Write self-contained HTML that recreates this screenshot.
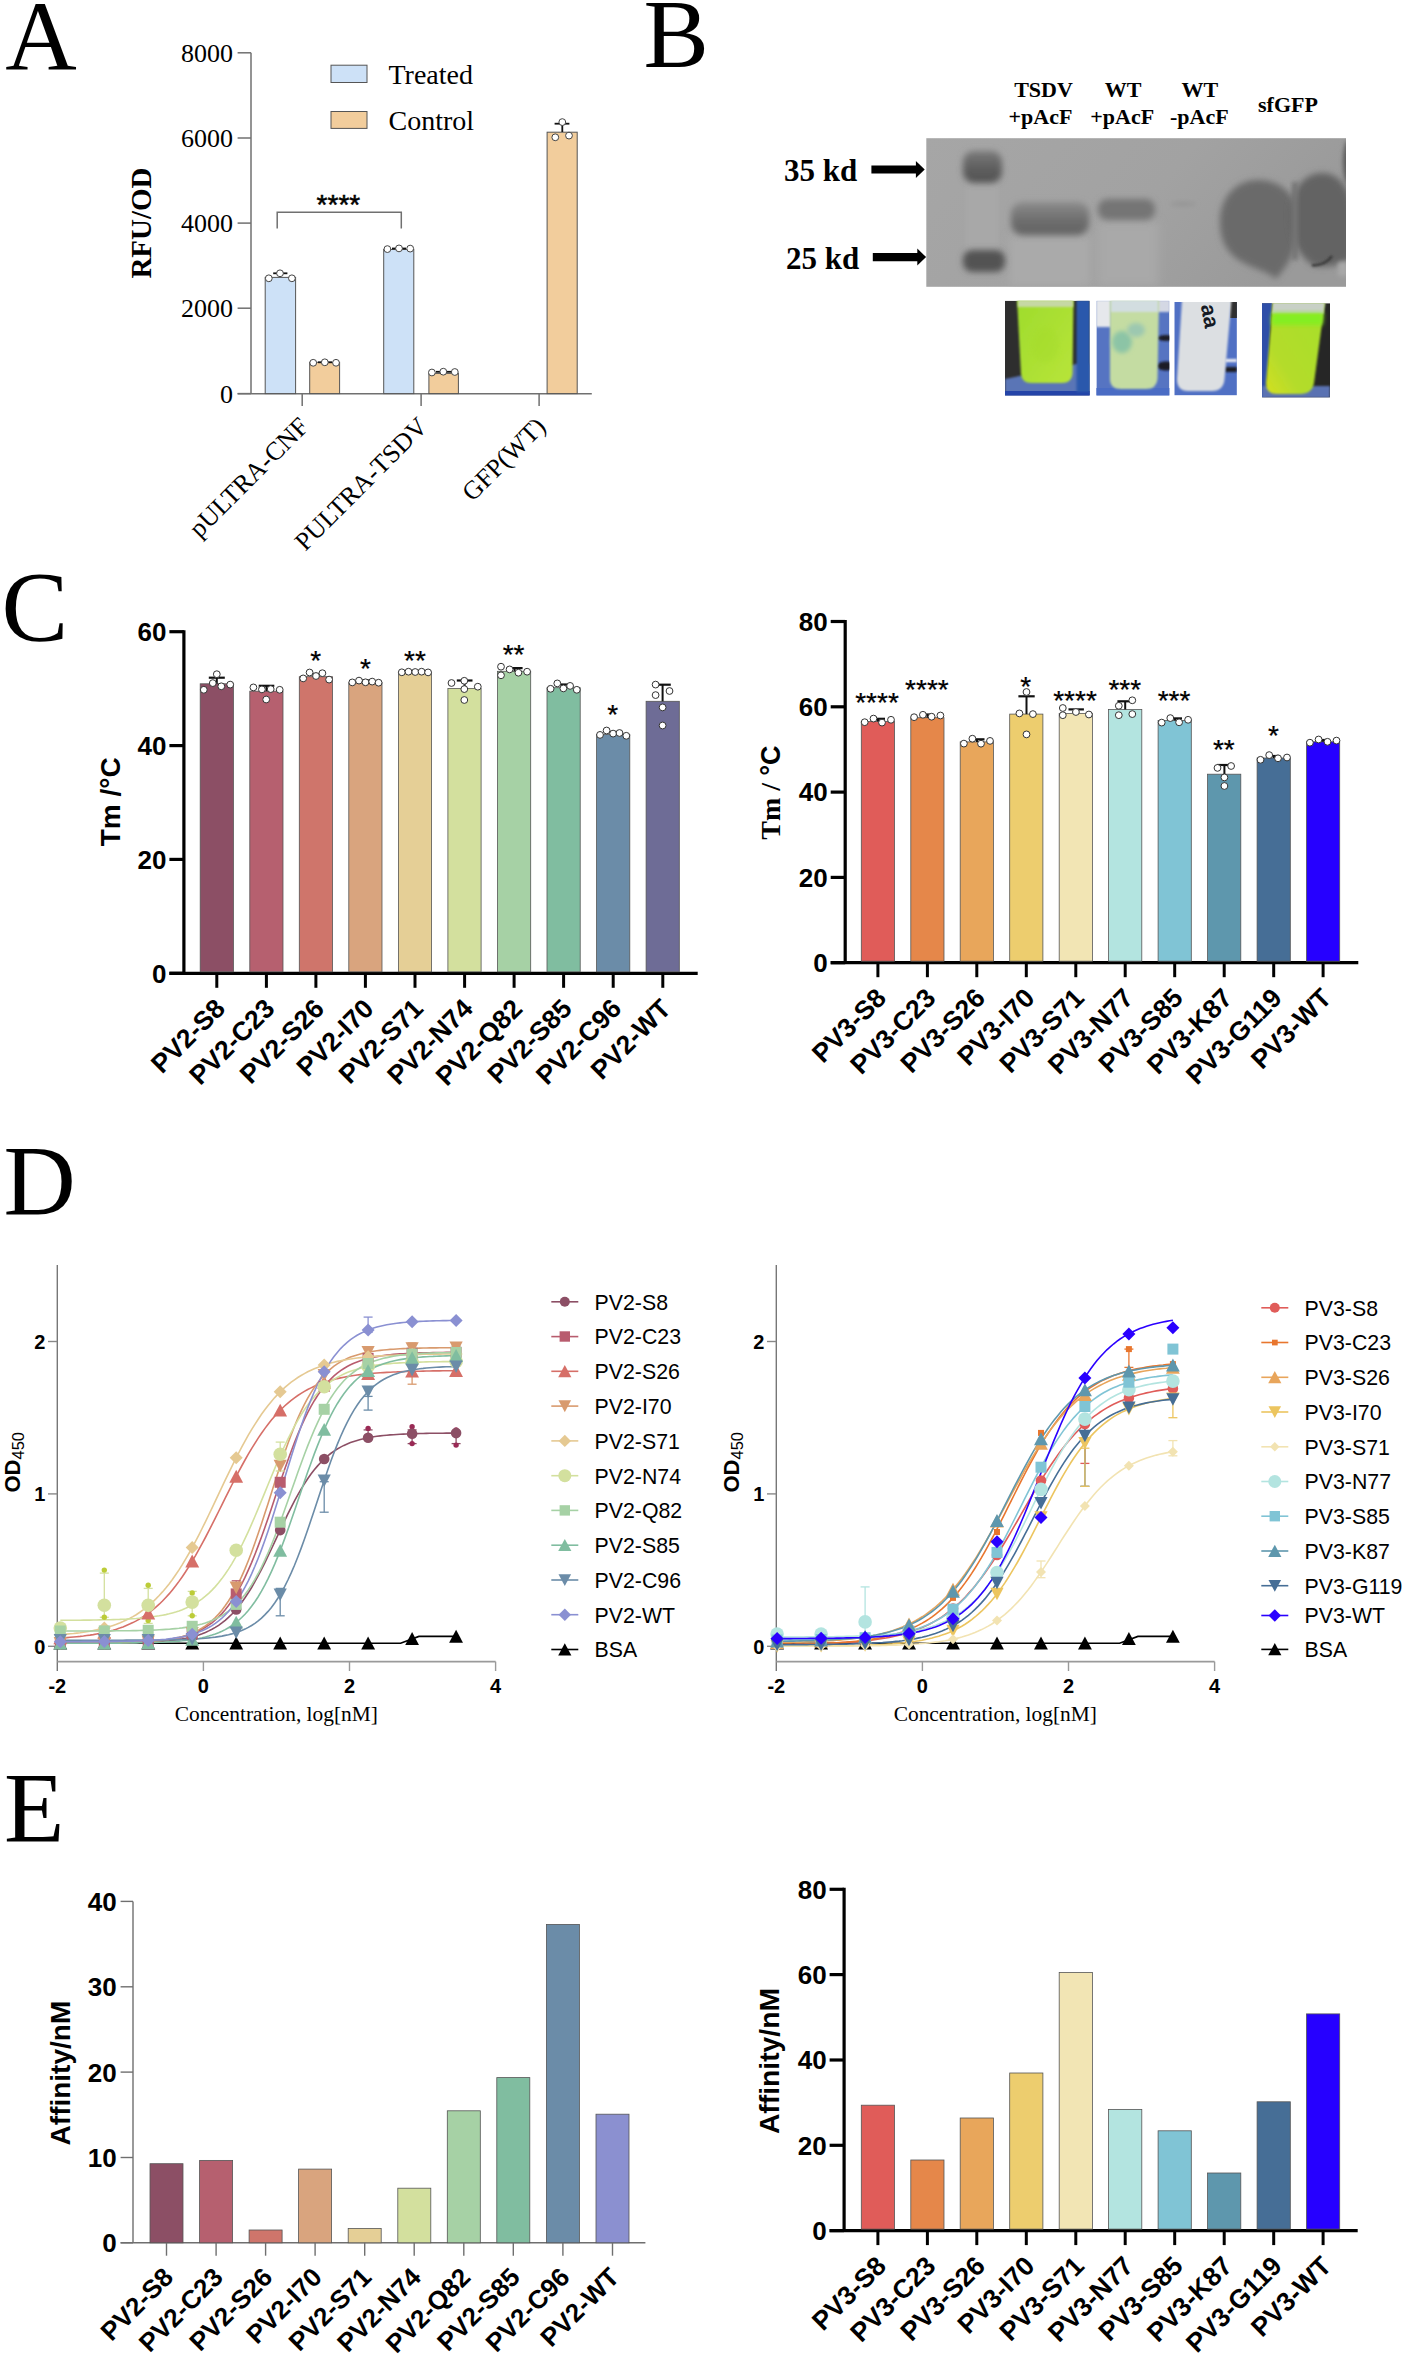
<!DOCTYPE html>
<html><head><meta charset="utf-8"><style>html,body{margin:0;padding:0;background:#fff;}svg{display:block;}</style></head>
<body><svg width="1405" height="2357" viewBox="0 0 1405 2357">
<rect width="1405" height="2357" fill="#fff"/>
<text x="5.2" y="69.6" font-family='"Liberation Serif", serif' font-size="99" font-weight="normal" text-anchor="start" fill="#000">A</text>
<line x1="251.0" y1="52.8" x2="251.0" y2="393.6" stroke="#707070" stroke-width="1.5"/>
<line x1="237.6" y1="52.8" x2="251.0" y2="52.8" stroke="#707070" stroke-width="1.5"/>
<text x="233.0" y="61.8" font-family='"Liberation Serif", serif' font-size="26" font-weight="normal" text-anchor="end" fill="#000">8000</text>
<line x1="237.6" y1="138.0" x2="251.0" y2="138.0" stroke="#707070" stroke-width="1.5"/>
<text x="233.0" y="147.0" font-family='"Liberation Serif", serif' font-size="26" font-weight="normal" text-anchor="end" fill="#000">6000</text>
<line x1="237.6" y1="223.1" x2="251.0" y2="223.1" stroke="#707070" stroke-width="1.5"/>
<text x="233.0" y="232.1" font-family='"Liberation Serif", serif' font-size="26" font-weight="normal" text-anchor="end" fill="#000">4000</text>
<line x1="237.6" y1="308.2" x2="251.0" y2="308.2" stroke="#707070" stroke-width="1.5"/>
<text x="233.0" y="317.2" font-family='"Liberation Serif", serif' font-size="26" font-weight="normal" text-anchor="end" fill="#000">2000</text>
<line x1="237.6" y1="393.6" x2="251.0" y2="393.6" stroke="#707070" stroke-width="1.5"/>
<text x="233.0" y="402.6" font-family='"Liberation Serif", serif' font-size="26" font-weight="normal" text-anchor="end" fill="#000">0</text>
<line x1="237.6" y1="393.7" x2="591.8" y2="393.7" stroke="#707070" stroke-width="1.5"/>
<line x1="302.2" y1="393.7" x2="302.2" y2="406.0" stroke="#707070" stroke-width="1.5"/>
<line x1="421.1" y1="393.7" x2="421.1" y2="406.0" stroke="#707070" stroke-width="1.5"/>
<line x1="539.1" y1="393.7" x2="539.1" y2="406.0" stroke="#707070" stroke-width="1.5"/>
<rect x="265.2" y="277.4" width="30.4" height="116.2" fill="#cde1f7" stroke="#555" stroke-width="1"/>
<rect x="309.7" y="362.3" width="29.9" height="31.3" fill="#f2cd9c" stroke="#555" stroke-width="1"/>
<rect x="383.7" y="249.5" width="30.1" height="144.1" fill="#cde1f7" stroke="#555" stroke-width="1"/>
<rect x="428.9" y="373.4" width="29.5" height="20.2" fill="#f2cd9c" stroke="#555" stroke-width="1"/>
<rect x="547.1" y="132.2" width="30.1" height="261.4" fill="#f2cd9c" stroke="#555" stroke-width="1"/>
<line x1="273.2" y1="273.3" x2="287.4" y2="273.3" stroke="#111" stroke-width="1.8"/>
<line x1="318.0" y1="362.3" x2="332.0" y2="362.3" stroke="#111" stroke-width="1.8"/>
<line x1="392.0" y1="248.5" x2="406.0" y2="248.5" stroke="#111" stroke-width="1.8"/>
<line x1="436.0" y1="371.8" x2="451.0" y2="371.8" stroke="#111" stroke-width="1.8"/>
<line x1="562.3" y1="132.0" x2="562.3" y2="123.7" stroke="#111" stroke-width="1.8"/>
<line x1="554.6" y1="123.7" x2="569.4" y2="123.7" stroke="#111" stroke-width="1.8"/>
<circle cx="268.8" cy="278.3" r="3.4" fill="#fff" stroke="#444" stroke-width="1"/>
<circle cx="280.0" cy="273.3" r="3.4" fill="#fff" stroke="#444" stroke-width="1"/>
<circle cx="291.9" cy="278.3" r="3.4" fill="#fff" stroke="#444" stroke-width="1"/>
<circle cx="313.2" cy="362.8" r="3.4" fill="#fff" stroke="#444" stroke-width="1"/>
<circle cx="324.8" cy="362.3" r="3.4" fill="#fff" stroke="#444" stroke-width="1"/>
<circle cx="336.0" cy="362.8" r="3.4" fill="#fff" stroke="#444" stroke-width="1"/>
<circle cx="387.4" cy="249.1" r="3.4" fill="#fff" stroke="#444" stroke-width="1"/>
<circle cx="399.0" cy="248.4" r="3.4" fill="#fff" stroke="#444" stroke-width="1"/>
<circle cx="410.2" cy="248.6" r="3.4" fill="#fff" stroke="#444" stroke-width="1"/>
<circle cx="431.9" cy="372.5" r="3.4" fill="#fff" stroke="#444" stroke-width="1"/>
<circle cx="443.3" cy="371.7" r="3.4" fill="#fff" stroke="#444" stroke-width="1"/>
<circle cx="454.8" cy="372.0" r="3.4" fill="#fff" stroke="#444" stroke-width="1"/>
<circle cx="555.3" cy="137.3" r="3.4" fill="#fff" stroke="#444" stroke-width="1"/>
<circle cx="562.3" cy="122.1" r="3.4" fill="#fff" stroke="#444" stroke-width="1"/>
<circle cx="569.0" cy="135.6" r="3.4" fill="#fff" stroke="#444" stroke-width="1"/>
<polyline points="277.2,228.5 277.2,212.3 401.3,212.3 401.3,228.5" fill="none" stroke="#707070" stroke-width="1.5"/>
<text x="338.4" y="213.5" font-family='"Liberation Sans", sans-serif' font-size="28" font-weight="normal" text-anchor="middle" fill="#000" stroke="#000" stroke-width="0.5">****</text>
<rect x="331.0" y="65.2" width="36.0" height="17.3" fill="#cde1f7" stroke="#555" stroke-width="1"/>
<rect x="331.0" y="111.5" width="36.0" height="16.9" fill="#f2cd9c" stroke="#555" stroke-width="1"/>
<text x="388.5" y="83.5" font-family='"Liberation Serif", serif' font-size="28" font-weight="normal" text-anchor="start" fill="#000">Treated</text>
<text x="388.5" y="129.5" font-family='"Liberation Serif", serif' font-size="28" font-weight="normal" text-anchor="start" fill="#000">Control</text>
<text x="150.5" y="223.0" font-family='"Liberation Serif", serif' font-size="29" font-weight="bold" text-anchor="middle" fill="#000" transform="rotate(-90 150.5 223.0)">RFU/OD</text>
<text x="310.2" y="428.0" font-family='"Liberation Serif", serif' font-size="26" font-weight="normal" text-anchor="end" fill="#000" transform="rotate(-45 310.2 428.0)">pULTRA-CNF</text>
<text x="429.1" y="428.0" font-family='"Liberation Serif", serif' font-size="26" font-weight="normal" text-anchor="end" fill="#000" transform="rotate(-45 429.1 428.0)">PULTRA-TSDV</text>
<text x="547.1" y="428.0" font-family='"Liberation Serif", serif' font-size="26" font-weight="normal" text-anchor="end" fill="#000" transform="rotate(-45 547.1 428.0)">GFP(WT)</text>
<text x="643.4" y="66.5" font-family='"Liberation Serif", serif' font-size="98" font-weight="normal" text-anchor="start" fill="#000">B</text>
<text x="1043.5" y="96.9" font-family='"Liberation Serif", serif' font-size="22" font-weight="bold" text-anchor="middle" fill="#000">TSDV</text>
<text x="1040.5" y="123.6" font-family='"Liberation Serif", serif' font-size="22" font-weight="bold" text-anchor="middle" fill="#000">+pAcF</text>
<text x="1123.0" y="96.9" font-family='"Liberation Serif", serif' font-size="22" font-weight="bold" text-anchor="middle" fill="#000">WT</text>
<text x="1122.2" y="123.6" font-family='"Liberation Serif", serif' font-size="22" font-weight="bold" text-anchor="middle" fill="#000">+pAcF</text>
<text x="1199.8" y="96.9" font-family='"Liberation Serif", serif' font-size="22" font-weight="bold" text-anchor="middle" fill="#000">WT</text>
<text x="1199.3" y="123.6" font-family='"Liberation Serif", serif' font-size="22" font-weight="bold" text-anchor="middle" fill="#000">-pAcF</text>
<text x="1288.0" y="112.4" font-family='"Liberation Serif", serif' font-size="22" font-weight="bold" text-anchor="middle" fill="#000">sfGFP</text>
<text x="784.0" y="181.1" font-family='"Liberation Serif", serif' font-size="31" font-weight="bold" text-anchor="start" fill="#000">35 kd</text>
<text x="786.0" y="268.9" font-family='"Liberation Serif", serif' font-size="31" font-weight="bold" text-anchor="start" fill="#000">25 kd</text>
<polygon points="871.4,165.4 915.9,165.4 915.9,161.0 924.6999999999999,169.5 915.9,178.0 915.9,173.6 871.4,173.6" fill="#000"/>
<polygon points="872.8,253.00000000000003 917.3,253.00000000000003 917.3,248.60000000000002 926.0999999999999,257.1 917.3,265.6 917.3,261.20000000000005 872.8,261.20000000000005" fill="#000"/>
<defs><filter id="bl4" x="-50%" y="-50%" width="200%" height="200%"><feGaussianBlur stdDeviation="4"/></filter><filter id="bl2" x="-50%" y="-50%" width="200%" height="200%"><feGaussianBlur stdDeviation="2.2"/></filter><filter id="bl1" x="-50%" y="-50%" width="200%" height="200%"><feGaussianBlur stdDeviation="1.2"/></filter><filter id="bl3" x="-50%" y="-50%" width="200%" height="200%"><feGaussianBlur stdDeviation="3.2"/></filter><clipPath id="gelclip"><rect x="926.3" y="138.2" width="419.7" height="148.6"/></clipPath></defs>
<defs><linearGradient id="gelbg" x1="0" y1="0" x2="1" y2="0.3"><stop offset="0" stop-color="#a6a6a6"/><stop offset="0.6" stop-color="#a2a2a2"/><stop offset="1" stop-color="#9a9a9a"/></linearGradient><linearGradient id="band" x1="0" y1="0" x2="0" y2="1"><stop offset="0" stop-color="#8c8c8c"/><stop offset="0.55" stop-color="#6e6e6e"/><stop offset="1" stop-color="#626262"/></linearGradient><linearGradient id="mk" x1="0" y1="0" x2="0" y2="1"><stop offset="0" stop-color="#7a7a7a"/><stop offset="0.6" stop-color="#5c5c5c"/><stop offset="1" stop-color="#545454"/></linearGradient></defs>
<rect x="926.3" y="138.2" width="419.7" height="148.6" fill="url(#gelbg)"/>
<g clip-path="url(#gelclip)">
<rect x="1010" y="236" width="80" height="50" fill="#aaaaaa" filter="url(#bl4)"/>
<rect x="1098" y="222" width="60" height="64" fill="#a9a9a9" filter="url(#bl4)"/>
<rect x="966" y="180" width="32" height="72" fill="#a8a8a8" filter="url(#bl2)"/>
<rect x="963" y="151" width="39" height="32" rx="11" fill="url(#mk)" filter="url(#bl3)"/>
<rect x="963" y="250" width="42" height="22" rx="9" fill="#525252" filter="url(#bl3)"/>
<rect x="1011" y="202" width="78" height="33" rx="12" fill="url(#band)" filter="url(#bl3)"/>
<rect x="1098" y="199" width="57" height="21" rx="9" fill="#747474" filter="url(#bl3)"/>
<ellipse cx="1183" cy="204" rx="13" ry="3" fill="#989898" filter="url(#bl2)"/>
<path d="M1220,222 C1220,197 1236,180 1258,180 C1282,180 1299,197 1299,222 C1299,250 1287,266 1276,279 C1268,271 1250,268 1237,259 C1225,250 1220,238 1220,222 Z" fill="#6a6a6a" filter="url(#bl3)"/>
<path d="M1290,215 C1290,190 1304,173 1322,173 C1340,173 1352,190 1352,215 L1352,258 C1340,266 1326,268 1314,266 C1298,256 1290,238 1290,215 Z" fill="#646464" filter="url(#bl3)"/>
<path d="M1312,265 C1320,266 1328,262 1332,256" stroke="#3a3a3a" stroke-width="2.5" fill="none" filter="url(#bl1)"/>
<rect x="1292" y="182" width="6" height="78" fill="#747474" filter="url(#bl2)"/>
<ellipse cx="1349" cy="162" rx="6" ry="22" fill="#5a5a5a" filter="url(#bl2)"/>
<rect x="1338" y="262" width="10" height="14" fill="#a8a8a8" filter="url(#bl2)"/>
</g>
<defs><clipPath id="t1"><rect x="1005" y="300.7" width="84.7" height="94.7"/></clipPath><clipPath id="t2"><rect x="1096.4" y="300.7" width="73" height="94.7"/></clipPath><clipPath id="t3"><rect x="1174.3" y="302" width="62.6" height="93.4"/></clipPath><clipPath id="t4"><rect x="1262" y="303.2" width="68" height="94.4"/></clipPath><linearGradient id="g1" x1="0" y1="0" x2="1" y2="1"><stop offset="0" stop-color="#9edc2c"/><stop offset="1" stop-color="#b8e43a"/></linearGradient><linearGradient id="g4" x1="1" y1="0" x2="0" y2="1"><stop offset="0" stop-color="#a6e02a"/><stop offset="0.7" stop-color="#b4dc2c"/><stop offset="1" stop-color="#d4e020"/></linearGradient></defs>
<g clip-path="url(#t1)">
<rect x="1005.0" y="300.7" width="84.7" height="94.7" fill="#2e2e2e"/>
<polygon points="1005,379 1076,364 1090,364 1090,396 1005,396" fill="#5a74b6" filter="url(#bl1)"/>
<rect x="1005" y="391" width="85" height="5" fill="#2444a8"/>
<rect x="1076.5" y="300" width="13.5" height="92" fill="#2a58ac" filter="url(#bl1)"/>
<path d="M1017,299 L1073.5,299 L1072.5,374 Q1071.5,383 1062,383 L1031,383 Q1022,383 1021,374 Z" fill="url(#g1)" filter="url(#bl1)"/>
<rect x="1018" y="300" width="55" height="7" fill="#c6d8a4" filter="url(#bl1)"/>
<ellipse cx="1045" cy="345" rx="14" ry="18" fill="#a4dc2c" opacity="0.4" filter="url(#bl2)"/>
</g>
<g clip-path="url(#t2)">
<rect x="1096.4" y="300.7" width="73.0" height="94.7" fill="#5674c2"/>
<rect x="1096" y="300" width="15" height="27" fill="#e6e8ec" filter="url(#bl1)"/>
<rect x="1157" y="300" width="13" height="12" fill="#d4d8e4" filter="url(#bl1)"/>
<ellipse cx="1166" cy="338" rx="9" ry="3" fill="#1c1c28" filter="url(#bl1)"/>
<ellipse cx="1166" cy="366" rx="9" ry="4.5" fill="#1c1c28" filter="url(#bl1)"/>
<rect x="1096" y="388" width="74" height="8" fill="#4a6cc4"/>
<path d="M1110,299 L1159,299 L1157.5,379 Q1156.5,389 1146,389 L1121,389 Q1110,389 1110,379 Z" fill="#c4dca2" filter="url(#bl1)"/>
<rect x="1111" y="300" width="47" height="12" fill="#d2dde0" filter="url(#bl1)"/>
<ellipse cx="1122" cy="342" rx="10" ry="11" fill="#8cc4a6" filter="url(#bl2)"/>
<ellipse cx="1136" cy="330" rx="9" ry="7" fill="#9cc8b0" filter="url(#bl2)"/>
</g>
<g clip-path="url(#t3)">
<rect x="1174.3" y="302.0" width="62.6" height="93.4" fill="#5070c4"/>
<rect x="1230" y="302" width="7" height="16" fill="#303030"/>
<rect x="1225" y="359" width="12" height="3" fill="#f0f0f4" filter="url(#bl1)"/>
<rect x="1225" y="367" width="12" height="5" fill="#1c1c24" filter="url(#bl1)"/>
<path d="M1182,300 L1231.5,300 L1224.5,379 Q1223.5,391 1212,391 L1188,391 Q1177,391 1177,379 Z" fill="#dcdfe2" filter="url(#bl1)"/>
<text x="1197" y="324" font-family='"Liberation Sans", sans-serif' font-size="21.5" font-weight="bold" fill="#151a24" transform="rotate(80 1210 317)">aa</text>
</g>
<g clip-path="url(#t4)">
<rect x="1262.0" y="303.2" width="68.0" height="94.4" fill="#262626"/>
<polygon points="1262,303 1272,303 1266,397 1262,397" fill="#2e4ea8"/>
<rect x="1262" y="386" width="68" height="12" fill="#5a72b2" filter="url(#bl1)"/>
<path d="M1273,301 L1325,301 L1314,383 Q1312,394 1300,394 L1277,394 Q1265,394 1266,382 Z" fill="url(#g4)" filter="url(#bl1)"/>
<path d="M1273,301 L1325,301 L1323.5,314 L1272,314 Z" fill="#c8d0c6" filter="url(#bl1)"/>
<path d="M1272,313 L1323.5,313 L1322.5,325 L1271.5,325 Z" fill="#84ee22" filter="url(#bl2)"/>
</g>
<text x="1.6" y="639.5" font-family='"Liberation Serif", serif' font-size="100" font-weight="normal" text-anchor="start" fill="#000">C</text>
<line x1="183.9" y1="630.2" x2="183.9" y2="973.3" stroke="#000" stroke-width="3.2"/>
<line x1="169.4" y1="631.7" x2="183.9" y2="631.7" stroke="#000" stroke-width="3.2"/>
<text x="166.4" y="641.0" font-family='"Liberation Sans", sans-serif' font-size="26" font-weight="bold" text-anchor="end" fill="#000">60</text>
<line x1="169.4" y1="745.6" x2="183.9" y2="745.6" stroke="#000" stroke-width="3.2"/>
<text x="166.4" y="754.9" font-family='"Liberation Sans", sans-serif' font-size="26" font-weight="bold" text-anchor="end" fill="#000">40</text>
<line x1="169.4" y1="859.4" x2="183.9" y2="859.4" stroke="#000" stroke-width="3.2"/>
<text x="166.4" y="868.7" font-family='"Liberation Sans", sans-serif' font-size="26" font-weight="bold" text-anchor="end" fill="#000">20</text>
<line x1="169.4" y1="973.3" x2="183.9" y2="973.3" stroke="#000" stroke-width="3.2"/>
<text x="166.4" y="982.6" font-family='"Liberation Sans", sans-serif' font-size="26" font-weight="bold" text-anchor="end" fill="#000">0</text>
<line x1="169.4" y1="973.3" x2="697.7" y2="973.3" stroke="#000" stroke-width="3.2"/>
<rect x="200.2" y="683.8" width="33.2" height="288.0" fill="#8c4f65" stroke="#555" stroke-width="0.8"/>
<line x1="216.8" y1="973.3" x2="216.8" y2="987.8" stroke="#000" stroke-width="3"/>
<text x="226.6" y="1010.2" font-family='"Liberation Sans", sans-serif' font-size="26.5" font-weight="bold" text-anchor="end" fill="#000" transform="rotate(-45 226.6 1010.2)">PV2-S8</text>
<rect x="249.8" y="691.2" width="33.2" height="280.6" fill="#b6606f" stroke="#555" stroke-width="0.8"/>
<line x1="266.4" y1="973.3" x2="266.4" y2="987.8" stroke="#000" stroke-width="3"/>
<text x="276.2" y="1010.2" font-family='"Liberation Sans", sans-serif' font-size="26.5" font-weight="bold" text-anchor="end" fill="#000" transform="rotate(-45 276.2 1010.2)">PV2-C23</text>
<rect x="299.3" y="676.7" width="33.2" height="295.1" fill="#cf756b" stroke="#555" stroke-width="0.8"/>
<line x1="315.9" y1="973.3" x2="315.9" y2="987.8" stroke="#000" stroke-width="3"/>
<text x="325.7" y="1010.2" font-family='"Liberation Sans", sans-serif' font-size="26.5" font-weight="bold" text-anchor="end" fill="#000" transform="rotate(-45 325.7 1010.2)">PV2-S26</text>
<rect x="348.8" y="682.7" width="33.2" height="289.1" fill="#d9a47e" stroke="#555" stroke-width="0.8"/>
<line x1="365.4" y1="973.3" x2="365.4" y2="987.8" stroke="#000" stroke-width="3"/>
<text x="375.2" y="1010.2" font-family='"Liberation Sans", sans-serif' font-size="26.5" font-weight="bold" text-anchor="end" fill="#000" transform="rotate(-45 375.2 1010.2)">PV2-I70</text>
<rect x="398.4" y="672.4" width="33.2" height="299.4" fill="#e5cf96" stroke="#555" stroke-width="0.8"/>
<line x1="415.0" y1="973.3" x2="415.0" y2="987.8" stroke="#000" stroke-width="3"/>
<text x="424.8" y="1010.2" font-family='"Liberation Sans", sans-serif' font-size="26.5" font-weight="bold" text-anchor="end" fill="#000" transform="rotate(-45 424.8 1010.2)">PV2-S71</text>
<rect x="447.9" y="688.4" width="33.2" height="283.4" fill="#d3e09e" stroke="#555" stroke-width="0.8"/>
<line x1="464.6" y1="973.3" x2="464.6" y2="987.8" stroke="#000" stroke-width="3"/>
<text x="474.4" y="1010.2" font-family='"Liberation Sans", sans-serif' font-size="26.5" font-weight="bold" text-anchor="end" fill="#000" transform="rotate(-45 474.4 1010.2)">PV2-N74</text>
<rect x="497.5" y="671.3" width="33.2" height="300.5" fill="#a6d1a5" stroke="#555" stroke-width="0.8"/>
<line x1="514.1" y1="973.3" x2="514.1" y2="987.8" stroke="#000" stroke-width="3"/>
<text x="523.9" y="1010.2" font-family='"Liberation Sans", sans-serif' font-size="26.5" font-weight="bold" text-anchor="end" fill="#000" transform="rotate(-45 523.9 1010.2)">PV2-Q82</text>
<rect x="547.0" y="687.7" width="33.2" height="284.1" fill="#80bda0" stroke="#555" stroke-width="0.8"/>
<line x1="563.6" y1="973.3" x2="563.6" y2="987.8" stroke="#000" stroke-width="3"/>
<text x="573.4" y="1010.2" font-family='"Liberation Sans", sans-serif' font-size="26.5" font-weight="bold" text-anchor="end" fill="#000" transform="rotate(-45 573.4 1010.2)">PV2-S85</text>
<rect x="596.6" y="734.6" width="33.2" height="237.2" fill="#6b8ca8" stroke="#555" stroke-width="0.8"/>
<line x1="613.2" y1="973.3" x2="613.2" y2="987.8" stroke="#000" stroke-width="3"/>
<text x="623.0" y="1010.2" font-family='"Liberation Sans", sans-serif' font-size="26.5" font-weight="bold" text-anchor="end" fill="#000" transform="rotate(-45 623.0 1010.2)">PV2-C96</text>
<rect x="646.1" y="701.3" width="33.2" height="270.5" fill="#6e6c96" stroke="#555" stroke-width="0.8"/>
<line x1="662.8" y1="973.3" x2="662.8" y2="987.8" stroke="#000" stroke-width="3"/>
<text x="672.5" y="1010.2" font-family='"Liberation Sans", sans-serif' font-size="26.5" font-weight="bold" text-anchor="end" fill="#000" transform="rotate(-45 672.5 1010.2)">PV2-WT</text>
<text x="120.0" y="801.8" font-family='"Liberation Sans", sans-serif' font-size="28" font-weight="bold" text-anchor="middle" fill="#000" transform="rotate(-90 120.0 801.8)">Tm /°C</text>
<line x1="216.8" y1="683.8" x2="216.8" y2="677.7" stroke="#111" stroke-width="2"/>
<line x1="208.8" y1="677.7" x2="224.8" y2="677.7" stroke="#111" stroke-width="2.2"/>
<line x1="266.5" y1="691.2" x2="266.5" y2="685.8" stroke="#111" stroke-width="2"/>
<line x1="258.7" y1="685.8" x2="274.3" y2="685.8" stroke="#111" stroke-width="2.2"/>
<line x1="316.0" y1="676.7" x2="316.0" y2="674.0" stroke="#111" stroke-width="2"/>
<line x1="311.0" y1="674.0" x2="321.0" y2="674.0" stroke="#111" stroke-width="2.2"/>
<line x1="365.5" y1="682.7" x2="365.5" y2="680.5" stroke="#111" stroke-width="2"/>
<line x1="361.5" y1="680.5" x2="369.5" y2="680.5" stroke="#111" stroke-width="2.2"/>
<line x1="415.0" y1="672.4" x2="415.0" y2="671.0" stroke="#111" stroke-width="2"/>
<line x1="411.0" y1="671.0" x2="419.0" y2="671.0" stroke="#111" stroke-width="2.2"/>
<line x1="464.6" y1="688.4" x2="464.6" y2="680.5" stroke="#111" stroke-width="2"/>
<line x1="456.8" y1="680.5" x2="472.5" y2="680.5" stroke="#111" stroke-width="2.2"/>
<line x1="514.6" y1="671.3" x2="514.6" y2="668.1" stroke="#111" stroke-width="2"/>
<line x1="506.6" y1="668.1" x2="522.6" y2="668.1" stroke="#111" stroke-width="2.2"/>
<line x1="563.5" y1="687.7" x2="563.5" y2="684.5" stroke="#111" stroke-width="2"/>
<line x1="558.5" y1="684.5" x2="568.5" y2="684.5" stroke="#111" stroke-width="2.2"/>
<line x1="613.0" y1="734.6" x2="613.0" y2="732.0" stroke="#111" stroke-width="2"/>
<line x1="609.0" y1="732.0" x2="617.0" y2="732.0" stroke="#111" stroke-width="2.2"/>
<line x1="662.6" y1="701.3" x2="662.6" y2="684.7" stroke="#111" stroke-width="2"/>
<line x1="654.4" y1="684.7" x2="670.8" y2="684.7" stroke="#111" stroke-width="2.2"/>
<circle cx="203.8" cy="689.8" r="3.4" fill="#fff" stroke="#333" stroke-width="1"/>
<circle cx="212.8" cy="683.1" r="3.4" fill="#fff" stroke="#333" stroke-width="1"/>
<circle cx="216.8" cy="674.2" r="3.4" fill="#fff" stroke="#333" stroke-width="1"/>
<circle cx="221.3" cy="686.3" r="3.4" fill="#fff" stroke="#333" stroke-width="1"/>
<circle cx="230.2" cy="684.6" r="3.4" fill="#fff" stroke="#333" stroke-width="1"/>
<circle cx="253.4" cy="687.4" r="3.4" fill="#fff" stroke="#333" stroke-width="1"/>
<circle cx="261.9" cy="689.4" r="3.4" fill="#fff" stroke="#333" stroke-width="1"/>
<circle cx="270.7" cy="689.1" r="3.4" fill="#fff" stroke="#333" stroke-width="1"/>
<circle cx="279.7" cy="689.8" r="3.4" fill="#fff" stroke="#333" stroke-width="1"/>
<circle cx="266.2" cy="699.5" r="3.4" fill="#fff" stroke="#333" stroke-width="1"/>
<circle cx="303.2" cy="678.4" r="3.4" fill="#fff" stroke="#333" stroke-width="1"/>
<circle cx="309.6" cy="672.5" r="3.4" fill="#fff" stroke="#333" stroke-width="1"/>
<circle cx="316.0" cy="676.0" r="3.4" fill="#fff" stroke="#333" stroke-width="1"/>
<circle cx="322.4" cy="673.2" r="3.4" fill="#fff" stroke="#333" stroke-width="1"/>
<circle cx="329.1" cy="679.6" r="3.4" fill="#fff" stroke="#333" stroke-width="1"/>
<circle cx="352.3" cy="682.4" r="3.4" fill="#fff" stroke="#333" stroke-width="1"/>
<circle cx="359.0" cy="680.6" r="3.4" fill="#fff" stroke="#333" stroke-width="1"/>
<circle cx="365.5" cy="682.3" r="3.4" fill="#fff" stroke="#333" stroke-width="1"/>
<circle cx="372.2" cy="681.6" r="3.4" fill="#fff" stroke="#333" stroke-width="1"/>
<circle cx="378.6" cy="682.7" r="3.4" fill="#fff" stroke="#333" stroke-width="1"/>
<circle cx="401.8" cy="672.3" r="3.4" fill="#fff" stroke="#333" stroke-width="1"/>
<circle cx="408.5" cy="671.7" r="3.4" fill="#fff" stroke="#333" stroke-width="1"/>
<circle cx="415.2" cy="672.0" r="3.4" fill="#fff" stroke="#333" stroke-width="1"/>
<circle cx="421.6" cy="671.7" r="3.4" fill="#fff" stroke="#333" stroke-width="1"/>
<circle cx="428.1" cy="672.4" r="3.4" fill="#fff" stroke="#333" stroke-width="1"/>
<circle cx="451.5" cy="683.0" r="3.4" fill="#fff" stroke="#333" stroke-width="1"/>
<circle cx="464.3" cy="680.8" r="3.4" fill="#fff" stroke="#333" stroke-width="1"/>
<circle cx="464.3" cy="689.1" r="3.4" fill="#fff" stroke="#333" stroke-width="1"/>
<circle cx="477.8" cy="686.7" r="3.4" fill="#fff" stroke="#333" stroke-width="1"/>
<circle cx="464.3" cy="700.0" r="3.4" fill="#fff" stroke="#333" stroke-width="1"/>
<circle cx="501.0" cy="666.7" r="3.4" fill="#fff" stroke="#333" stroke-width="1"/>
<circle cx="501.0" cy="675.3" r="3.4" fill="#fff" stroke="#333" stroke-width="1"/>
<circle cx="509.6" cy="669.4" r="3.4" fill="#fff" stroke="#333" stroke-width="1"/>
<circle cx="518.4" cy="672.7" r="3.4" fill="#fff" stroke="#333" stroke-width="1"/>
<circle cx="527.1" cy="671.7" r="3.4" fill="#fff" stroke="#333" stroke-width="1"/>
<circle cx="550.6" cy="688.8" r="3.4" fill="#fff" stroke="#333" stroke-width="1"/>
<circle cx="557.3" cy="683.4" r="3.4" fill="#fff" stroke="#333" stroke-width="1"/>
<circle cx="563.4" cy="688.4" r="3.4" fill="#fff" stroke="#333" stroke-width="1"/>
<circle cx="570.1" cy="685.9" r="3.4" fill="#fff" stroke="#333" stroke-width="1"/>
<circle cx="576.8" cy="689.8" r="3.4" fill="#fff" stroke="#333" stroke-width="1"/>
<circle cx="600.0" cy="734.9" r="3.4" fill="#fff" stroke="#333" stroke-width="1"/>
<circle cx="606.6" cy="730.5" r="3.4" fill="#fff" stroke="#333" stroke-width="1"/>
<circle cx="613.1" cy="733.6" r="3.4" fill="#fff" stroke="#333" stroke-width="1"/>
<circle cx="619.5" cy="733.0" r="3.4" fill="#fff" stroke="#333" stroke-width="1"/>
<circle cx="626.3" cy="735.8" r="3.4" fill="#fff" stroke="#333" stroke-width="1"/>
<circle cx="655.6" cy="684.6" r="3.4" fill="#fff" stroke="#333" stroke-width="1"/>
<circle cx="669.5" cy="691.0" r="3.4" fill="#fff" stroke="#333" stroke-width="1"/>
<circle cx="655.6" cy="695.1" r="3.4" fill="#fff" stroke="#333" stroke-width="1"/>
<circle cx="662.6" cy="707.4" r="3.4" fill="#fff" stroke="#333" stroke-width="1"/>
<circle cx="662.6" cy="725.5" r="3.4" fill="#fff" stroke="#333" stroke-width="1"/>
<text x="315.7" y="670.0" font-family='"Liberation Sans", sans-serif' font-size="28" font-weight="normal" text-anchor="middle" fill="#000" stroke="#000" stroke-width="0.25">*</text>
<text x="365.5" y="677.8" font-family='"Liberation Sans", sans-serif' font-size="28" font-weight="normal" text-anchor="middle" fill="#000" stroke="#000" stroke-width="0.25">*</text>
<text x="414.9" y="670.0" font-family='"Liberation Sans", sans-serif' font-size="28" font-weight="normal" text-anchor="middle" fill="#000" stroke="#000" stroke-width="0.25">**</text>
<text x="513.6" y="664.2" font-family='"Liberation Sans", sans-serif' font-size="28" font-weight="normal" text-anchor="middle" fill="#000" stroke="#000" stroke-width="0.25">**</text>
<text x="612.6" y="723.8" font-family='"Liberation Sans", sans-serif' font-size="28" font-weight="normal" text-anchor="middle" fill="#000" stroke="#000" stroke-width="0.25">*</text>
<line x1="845.2" y1="620.0" x2="845.2" y2="962.7" stroke="#000" stroke-width="3.2"/>
<line x1="830.7" y1="621.5" x2="845.2" y2="621.5" stroke="#000" stroke-width="3.2"/>
<text x="827.7" y="630.8" font-family='"Liberation Sans", sans-serif' font-size="26" font-weight="bold" text-anchor="end" fill="#000">80</text>
<line x1="830.7" y1="706.8" x2="845.2" y2="706.8" stroke="#000" stroke-width="3.2"/>
<text x="827.7" y="716.1" font-family='"Liberation Sans", sans-serif' font-size="26" font-weight="bold" text-anchor="end" fill="#000">60</text>
<line x1="830.7" y1="792.1" x2="845.2" y2="792.1" stroke="#000" stroke-width="3.2"/>
<text x="827.7" y="801.4" font-family='"Liberation Sans", sans-serif' font-size="26" font-weight="bold" text-anchor="end" fill="#000">40</text>
<line x1="830.7" y1="877.4" x2="845.2" y2="877.4" stroke="#000" stroke-width="3.2"/>
<text x="827.7" y="886.7" font-family='"Liberation Sans", sans-serif' font-size="26" font-weight="bold" text-anchor="end" fill="#000">20</text>
<line x1="830.7" y1="962.7" x2="845.2" y2="962.7" stroke="#000" stroke-width="3.2"/>
<text x="827.7" y="972.0" font-family='"Liberation Sans", sans-serif' font-size="26" font-weight="bold" text-anchor="end" fill="#000">0</text>
<line x1="830.7" y1="962.7" x2="1358.3" y2="962.7" stroke="#000" stroke-width="3.2"/>
<rect x="861.3" y="721.5" width="33.2" height="239.7" fill="#e05c59" stroke="#555" stroke-width="0.8"/>
<line x1="877.9" y1="962.7" x2="877.9" y2="977.2" stroke="#000" stroke-width="3"/>
<text x="887.7" y="999.6" font-family='"Liberation Sans", sans-serif' font-size="26.5" font-weight="bold" text-anchor="end" fill="#000" transform="rotate(-45 887.7 999.6)">PV3-S8</text>
<rect x="910.8" y="717.7" width="33.2" height="243.5" fill="#e5874a" stroke="#555" stroke-width="0.8"/>
<line x1="927.4" y1="962.7" x2="927.4" y2="977.2" stroke="#000" stroke-width="3"/>
<text x="937.2" y="999.6" font-family='"Liberation Sans", sans-serif' font-size="26.5" font-weight="bold" text-anchor="end" fill="#000" transform="rotate(-45 937.2 999.6)">PV3-C23</text>
<rect x="960.2" y="741.9" width="33.2" height="219.3" fill="#e8a65b" stroke="#555" stroke-width="0.8"/>
<line x1="976.8" y1="962.7" x2="976.8" y2="977.2" stroke="#000" stroke-width="3"/>
<text x="986.6" y="999.6" font-family='"Liberation Sans", sans-serif' font-size="26.5" font-weight="bold" text-anchor="end" fill="#000" transform="rotate(-45 986.6 999.6)">PV3-S26</text>
<rect x="1009.7" y="714.1" width="33.2" height="247.1" fill="#edcd6e" stroke="#555" stroke-width="0.8"/>
<line x1="1026.3" y1="962.7" x2="1026.3" y2="977.2" stroke="#000" stroke-width="3"/>
<text x="1036.1" y="999.6" font-family='"Liberation Sans", sans-serif' font-size="26.5" font-weight="bold" text-anchor="end" fill="#000" transform="rotate(-45 1036.1 999.6)">PV3-I70</text>
<rect x="1059.2" y="713.4" width="33.2" height="247.8" fill="#f2e5b4" stroke="#555" stroke-width="0.8"/>
<line x1="1075.8" y1="962.7" x2="1075.8" y2="977.2" stroke="#000" stroke-width="3"/>
<text x="1085.6" y="999.6" font-family='"Liberation Sans", sans-serif' font-size="26.5" font-weight="bold" text-anchor="end" fill="#000" transform="rotate(-45 1085.6 999.6)">PV3-S71</text>
<rect x="1108.6" y="709.4" width="33.2" height="251.8" fill="#b3e4e0" stroke="#555" stroke-width="0.8"/>
<line x1="1125.2" y1="962.7" x2="1125.2" y2="977.2" stroke="#000" stroke-width="3"/>
<text x="1135.0" y="999.6" font-family='"Liberation Sans", sans-serif' font-size="26.5" font-weight="bold" text-anchor="end" fill="#000" transform="rotate(-45 1135.0 999.6)">PV3-N77</text>
<rect x="1158.1" y="720.5" width="33.2" height="240.7" fill="#80c4d5" stroke="#555" stroke-width="0.8"/>
<line x1="1174.7" y1="962.7" x2="1174.7" y2="977.2" stroke="#000" stroke-width="3"/>
<text x="1184.5" y="999.6" font-family='"Liberation Sans", sans-serif' font-size="26.5" font-weight="bold" text-anchor="end" fill="#000" transform="rotate(-45 1184.5 999.6)">PV3-S85</text>
<rect x="1207.6" y="774.2" width="33.2" height="187.0" fill="#5e97ad" stroke="#555" stroke-width="0.8"/>
<line x1="1224.2" y1="962.7" x2="1224.2" y2="977.2" stroke="#000" stroke-width="3"/>
<text x="1234.0" y="999.6" font-family='"Liberation Sans", sans-serif' font-size="26.5" font-weight="bold" text-anchor="end" fill="#000" transform="rotate(-45 1234.0 999.6)">PV3-K87</text>
<rect x="1257.1" y="758.0" width="33.2" height="203.2" fill="#466e96" stroke="#555" stroke-width="0.8"/>
<line x1="1273.7" y1="962.7" x2="1273.7" y2="977.2" stroke="#000" stroke-width="3"/>
<text x="1283.5" y="999.6" font-family='"Liberation Sans", sans-serif' font-size="26.5" font-weight="bold" text-anchor="end" fill="#000" transform="rotate(-45 1283.5 999.6)">PV3-G119</text>
<rect x="1306.5" y="741.8" width="33.2" height="219.4" fill="#2600ff" stroke="#555" stroke-width="0.8"/>
<line x1="1323.1" y1="962.7" x2="1323.1" y2="977.2" stroke="#000" stroke-width="3"/>
<text x="1332.9" y="999.6" font-family='"Liberation Sans", sans-serif' font-size="26.5" font-weight="bold" text-anchor="end" fill="#000" transform="rotate(-45 1332.9 999.6)">PV3-WT</text>
<text x="780.5" y="792.6" font-family='"Liberation Serif", serif' font-size="28" font-weight="bold" text-anchor="middle" transform="rotate(-90 780.5 792.6)">Tm / <tspan font-family='"Liberation Sans", sans-serif' font-size="27">°C</tspan></text>
<line x1="878.0" y1="721.5" x2="878.0" y2="718.8" stroke="#111" stroke-width="2"/>
<line x1="871.0" y1="718.8" x2="885.0" y2="718.8" stroke="#111" stroke-width="2.2"/>
<line x1="927.5" y1="717.7" x2="927.5" y2="714.5" stroke="#111" stroke-width="2"/>
<line x1="923.5" y1="714.5" x2="931.5" y2="714.5" stroke="#111" stroke-width="2.2"/>
<line x1="977.0" y1="741.9" x2="977.0" y2="739.3" stroke="#111" stroke-width="2"/>
<line x1="969.5" y1="739.3" x2="984.5" y2="739.3" stroke="#111" stroke-width="2.2"/>
<line x1="1026.5" y1="714.1" x2="1026.5" y2="696.3" stroke="#111" stroke-width="2"/>
<line x1="1018.4" y1="696.3" x2="1034.7" y2="696.3" stroke="#111" stroke-width="2.2"/>
<line x1="1076.2" y1="713.4" x2="1076.2" y2="709.4" stroke="#111" stroke-width="2"/>
<line x1="1068.5" y1="709.4" x2="1083.9" y2="709.4" stroke="#111" stroke-width="2.2"/>
<line x1="1125.2" y1="709.4" x2="1125.2" y2="701.3" stroke="#111" stroke-width="2"/>
<line x1="1117.4" y1="701.3" x2="1133.0" y2="701.3" stroke="#111" stroke-width="2.2"/>
<line x1="1175.0" y1="720.5" x2="1175.0" y2="718.4" stroke="#111" stroke-width="2"/>
<line x1="1168.0" y1="718.4" x2="1182.0" y2="718.4" stroke="#111" stroke-width="2.2"/>
<line x1="1224.4" y1="774.2" x2="1224.4" y2="765.0" stroke="#111" stroke-width="2"/>
<line x1="1216.9" y1="765.0" x2="1231.9" y2="765.0" stroke="#111" stroke-width="2.2"/>
<line x1="1273.8" y1="758.0" x2="1273.8" y2="756.0" stroke="#111" stroke-width="2"/>
<line x1="1268.8" y1="756.0" x2="1278.8" y2="756.0" stroke="#111" stroke-width="2.2"/>
<line x1="1323.0" y1="741.8" x2="1323.0" y2="740.0" stroke="#111" stroke-width="2"/>
<line x1="1319.0" y1="740.0" x2="1327.0" y2="740.0" stroke="#111" stroke-width="2.2"/>
<circle cx="864.7" cy="722.2" r="3.4" fill="#fff" stroke="#333" stroke-width="1"/>
<circle cx="873.5" cy="718.6" r="3.4" fill="#fff" stroke="#333" stroke-width="1"/>
<circle cx="882.0" cy="722.6" r="3.4" fill="#fff" stroke="#333" stroke-width="1"/>
<circle cx="891.0" cy="719.8" r="3.4" fill="#fff" stroke="#333" stroke-width="1"/>
<circle cx="914.1" cy="717.2" r="3.4" fill="#fff" stroke="#333" stroke-width="1"/>
<circle cx="922.9" cy="714.8" r="3.4" fill="#fff" stroke="#333" stroke-width="1"/>
<circle cx="931.6" cy="716.7" r="3.4" fill="#fff" stroke="#333" stroke-width="1"/>
<circle cx="940.4" cy="715.5" r="3.4" fill="#fff" stroke="#333" stroke-width="1"/>
<circle cx="963.9" cy="743.6" r="3.4" fill="#fff" stroke="#333" stroke-width="1"/>
<circle cx="972.4" cy="738.7" r="3.4" fill="#fff" stroke="#333" stroke-width="1"/>
<circle cx="981.0" cy="743.7" r="3.4" fill="#fff" stroke="#333" stroke-width="1"/>
<circle cx="990.0" cy="740.9" r="3.4" fill="#fff" stroke="#333" stroke-width="1"/>
<circle cx="1019.4" cy="713.4" r="3.4" fill="#fff" stroke="#333" stroke-width="1"/>
<circle cx="1032.9" cy="714.1" r="3.4" fill="#fff" stroke="#333" stroke-width="1"/>
<circle cx="1026.5" cy="692.0" r="3.4" fill="#fff" stroke="#333" stroke-width="1"/>
<circle cx="1026.5" cy="734.4" r="3.4" fill="#fff" stroke="#333" stroke-width="1"/>
<circle cx="1062.8" cy="708.0" r="3.4" fill="#fff" stroke="#333" stroke-width="1"/>
<circle cx="1062.8" cy="715.2" r="3.4" fill="#fff" stroke="#333" stroke-width="1"/>
<circle cx="1075.9" cy="712.0" r="3.4" fill="#fff" stroke="#333" stroke-width="1"/>
<circle cx="1088.9" cy="714.5" r="3.4" fill="#fff" stroke="#333" stroke-width="1"/>
<circle cx="1118.8" cy="705.8" r="3.4" fill="#fff" stroke="#333" stroke-width="1"/>
<circle cx="1132.3" cy="700.3" r="3.4" fill="#fff" stroke="#333" stroke-width="1"/>
<circle cx="1118.8" cy="715.2" r="3.4" fill="#fff" stroke="#333" stroke-width="1"/>
<circle cx="1132.3" cy="714.1" r="3.4" fill="#fff" stroke="#333" stroke-width="1"/>
<circle cx="1161.7" cy="722.6" r="3.4" fill="#fff" stroke="#333" stroke-width="1"/>
<circle cx="1170.3" cy="718.1" r="3.4" fill="#fff" stroke="#333" stroke-width="1"/>
<circle cx="1179.1" cy="722.3" r="3.4" fill="#fff" stroke="#333" stroke-width="1"/>
<circle cx="1188.1" cy="719.8" r="3.4" fill="#fff" stroke="#333" stroke-width="1"/>
<circle cx="1217.5" cy="767.9" r="3.4" fill="#fff" stroke="#333" stroke-width="1"/>
<circle cx="1231.1" cy="766.0" r="3.4" fill="#fff" stroke="#333" stroke-width="1"/>
<circle cx="1224.4" cy="777.4" r="3.4" fill="#fff" stroke="#333" stroke-width="1"/>
<circle cx="1224.4" cy="786.0" r="3.4" fill="#fff" stroke="#333" stroke-width="1"/>
<circle cx="1260.5" cy="759.8" r="3.4" fill="#fff" stroke="#333" stroke-width="1"/>
<circle cx="1269.2" cy="755.1" r="3.4" fill="#fff" stroke="#333" stroke-width="1"/>
<circle cx="1278.0" cy="758.3" r="3.4" fill="#fff" stroke="#333" stroke-width="1"/>
<circle cx="1287.0" cy="757.5" r="3.4" fill="#fff" stroke="#333" stroke-width="1"/>
<circle cx="1309.9" cy="742.7" r="3.4" fill="#fff" stroke="#333" stroke-width="1"/>
<circle cx="1318.6" cy="739.5" r="3.4" fill="#fff" stroke="#333" stroke-width="1"/>
<circle cx="1327.5" cy="741.8" r="3.4" fill="#fff" stroke="#333" stroke-width="1"/>
<circle cx="1336.5" cy="740.6" r="3.4" fill="#fff" stroke="#333" stroke-width="1"/>
<text x="877.0" y="712.2" font-family='"Liberation Sans", sans-serif' font-size="28" font-weight="normal" text-anchor="middle" fill="#000" stroke="#000" stroke-width="0.25">****</text>
<text x="926.9" y="698.9" font-family='"Liberation Sans", sans-serif' font-size="28" font-weight="normal" text-anchor="middle" fill="#000" stroke="#000" stroke-width="0.25">****</text>
<text x="1025.8" y="696.4" font-family='"Liberation Sans", sans-serif' font-size="28" font-weight="normal" text-anchor="middle" fill="#000" stroke="#000" stroke-width="0.25">*</text>
<text x="1075.0" y="709.5" font-family='"Liberation Sans", sans-serif' font-size="28" font-weight="normal" text-anchor="middle" fill="#000" stroke="#000" stroke-width="0.25">****</text>
<text x="1124.8" y="698.9" font-family='"Liberation Sans", sans-serif' font-size="28" font-weight="normal" text-anchor="middle" fill="#000" stroke="#000" stroke-width="0.25">***</text>
<text x="1174.0" y="709.5" font-family='"Liberation Sans", sans-serif' font-size="28" font-weight="normal" text-anchor="middle" fill="#000" stroke="#000" stroke-width="0.25">***</text>
<text x="1223.8" y="759.0" font-family='"Liberation Sans", sans-serif' font-size="28" font-weight="normal" text-anchor="middle" fill="#000" stroke="#000" stroke-width="0.25">**</text>
<text x="1273.5" y="745.3" font-family='"Liberation Sans", sans-serif' font-size="28" font-weight="normal" text-anchor="middle" fill="#000" stroke="#000" stroke-width="0.25">*</text>
<text x="3.4" y="1214.0" font-family='"Liberation Serif", serif' font-size="100" font-weight="normal" text-anchor="start" fill="#000">D</text>
<line x1="57.3" y1="1265.0" x2="57.3" y2="1671.0" stroke="#777" stroke-width="1.4"/>
<line x1="57.3" y1="1661.6" x2="495.6" y2="1661.6" stroke="#9a9a9a" stroke-width="1.6"/>
<line x1="203.4" y1="1661.6" x2="203.4" y2="1671.0" stroke="#9a9a9a" stroke-width="1.4"/>
<line x1="349.5" y1="1661.6" x2="349.5" y2="1671.0" stroke="#9a9a9a" stroke-width="1.4"/>
<line x1="495.6" y1="1661.6" x2="495.6" y2="1671.0" stroke="#9a9a9a" stroke-width="1.4"/>
<text x="57.3" y="1693.0" font-family='"Liberation Sans", sans-serif' font-size="20" font-weight="bold" text-anchor="middle" fill="#000">-2</text>
<text x="203.4" y="1693.0" font-family='"Liberation Sans", sans-serif' font-size="20" font-weight="bold" text-anchor="middle" fill="#000">0</text>
<text x="349.5" y="1693.0" font-family='"Liberation Sans", sans-serif' font-size="20" font-weight="bold" text-anchor="middle" fill="#000">2</text>
<text x="495.6" y="1693.0" font-family='"Liberation Sans", sans-serif' font-size="20" font-weight="bold" text-anchor="middle" fill="#000">4</text>
<line x1="48.0" y1="1646.3" x2="57.3" y2="1646.3" stroke="#888" stroke-width="1.4"/>
<text x="45.3" y="1653.5" font-family='"Liberation Sans", sans-serif' font-size="20" font-weight="bold" text-anchor="end" fill="#000">0</text>
<line x1="48.0" y1="1493.9" x2="57.3" y2="1493.9" stroke="#888" stroke-width="1.4"/>
<text x="45.3" y="1501.1" font-family='"Liberation Sans", sans-serif' font-size="20" font-weight="bold" text-anchor="end" fill="#000">1</text>
<line x1="48.0" y1="1341.5" x2="57.3" y2="1341.5" stroke="#888" stroke-width="1.4"/>
<text x="45.3" y="1348.7" font-family='"Liberation Sans", sans-serif' font-size="20" font-weight="bold" text-anchor="end" fill="#000">2</text>
<text x="276.3" y="1720.5" font-family='"Liberation Serif", serif' font-size="21.4" font-weight="normal" text-anchor="middle" fill="#000">Concentration, log[nM]</text>
<text transform="translate(19.6,1492.5) rotate(-90)" font-family='"Liberation Sans", sans-serif' font-size="22" font-weight="bold">OD<tspan font-size="16.5" font-weight="normal" dy="4.7">450</tspan></text>
<polyline points="60.3,1643.3 400.6,1643.3 418.9,1636.4 456.1,1636.4" fill="none" stroke="#000" stroke-width="1.6"/>
<polyline points="60.3,1643.2 63.6,1643.2 66.9,1643.2 70.2,1643.2 73.5,1643.2 76.8,1643.2 80.1,1643.2 83.4,1643.2 86.7,1643.2 90.0,1643.2 93.3,1643.1 96.6,1643.1 99.9,1643.1 103.2,1643.1 106.5,1643.1 109.8,1643.0 113.1,1643.0 116.4,1643.0 119.7,1642.9 123.0,1642.9 126.3,1642.8 129.6,1642.7 132.9,1642.7 136.2,1642.6 139.5,1642.5 142.8,1642.4 146.0,1642.3 149.3,1642.1 152.6,1641.9 155.9,1641.8 159.2,1641.5 162.5,1641.3 165.8,1641.0 169.1,1640.7 172.4,1640.3 175.7,1639.9 179.0,1639.4 182.3,1638.9 185.6,1638.3 188.9,1637.6 192.2,1636.8 195.5,1635.9 198.8,1634.9 202.1,1633.7 205.4,1632.4 208.7,1630.9 212.0,1629.2 215.3,1627.4 218.6,1625.3 221.9,1622.9 225.2,1620.3 228.5,1617.4 231.8,1614.2 235.1,1610.6 238.4,1606.7 241.7,1602.4 245.0,1597.8 248.3,1592.8 251.6,1587.5 254.9,1581.7 258.2,1575.7 261.5,1569.4 264.8,1562.8 268.1,1555.9 271.4,1549.0 274.7,1541.9 278.0,1534.8 281.3,1527.7 284.6,1520.8 287.9,1513.9 291.2,1507.3 294.5,1500.9 297.8,1494.9 301.1,1489.1 304.4,1483.8 307.7,1478.7 311.0,1474.1 314.3,1469.8 317.6,1465.9 320.9,1462.3 324.2,1459.0 327.4,1456.1 330.7,1453.5 334.0,1451.1 337.3,1449.0 340.6,1447.1 343.9,1445.4 347.2,1443.9 350.5,1442.6 353.8,1441.4 357.1,1440.4 360.4,1439.5 363.7,1438.7 367.0,1438.0 370.3,1437.3 373.6,1436.8 376.9,1436.3 380.2,1435.9 383.5,1435.5 386.8,1435.2 390.1,1434.9 393.4,1434.7 396.7,1434.5 400.0,1434.3 403.3,1434.1 406.6,1434.0 409.9,1433.8 413.2,1433.7 416.5,1433.6 419.8,1433.5 423.1,1433.5 426.4,1433.4 429.7,1433.3 433.0,1433.3 436.3,1433.2 439.6,1433.2 442.9,1433.2 446.2,1433.1 449.5,1433.1 452.8,1433.1 456.1,1433.1" fill="none" stroke="#8c4f65" stroke-width="1.6"/>
<polyline points="60.3,1643.2 63.6,1643.2 66.9,1643.2 70.2,1643.2 73.5,1643.2 76.8,1643.2 80.1,1643.2 83.4,1643.1 86.7,1643.1 90.0,1643.1 93.3,1643.1 96.6,1643.1 99.9,1643.0 103.2,1643.0 106.5,1643.0 109.8,1642.9 113.1,1642.9 116.4,1642.8 119.7,1642.8 123.0,1642.7 126.3,1642.6 129.6,1642.5 132.9,1642.4 136.2,1642.3 139.5,1642.1 142.8,1642.0 146.0,1641.8 149.3,1641.6 152.6,1641.3 155.9,1641.1 159.2,1640.7 162.5,1640.4 165.8,1640.0 169.1,1639.5 172.4,1639.0 175.7,1638.4 179.0,1637.7 182.3,1636.9 185.6,1636.0 188.9,1634.9 192.2,1633.8 195.5,1632.5 198.8,1631.0 202.1,1629.3 205.4,1627.3 208.7,1625.2 212.0,1622.8 215.3,1620.0 218.6,1617.0 221.9,1613.6 225.2,1609.8 228.5,1605.5 231.8,1600.9 235.1,1595.7 238.4,1590.1 241.7,1584.0 245.0,1577.4 248.3,1570.2 251.6,1562.6 254.9,1554.5 258.2,1545.9 261.5,1537.0 264.8,1527.7 268.1,1518.2 271.4,1508.5 274.7,1498.6 278.0,1488.8 281.3,1479.1 284.6,1469.5 287.9,1460.2 291.2,1451.2 294.5,1442.5 297.8,1434.3 301.1,1426.6 304.4,1419.4 307.7,1412.6 311.0,1406.4 314.3,1400.7 317.6,1395.5 320.9,1390.7 324.2,1386.4 327.4,1382.5 330.7,1379.1 334.0,1375.9 337.3,1373.2 340.6,1370.7 343.9,1368.5 347.2,1366.5 350.5,1364.8 353.8,1363.2 357.1,1361.9 360.4,1360.7 363.7,1359.6 367.0,1358.7 370.3,1357.9 373.6,1357.2 376.9,1356.6 380.2,1356.0 383.5,1355.5 386.8,1355.1 390.1,1354.7 393.4,1354.4 396.7,1354.1 400.0,1353.9 403.3,1353.7 406.6,1353.5 409.9,1353.3 413.2,1353.2 416.5,1353.0 419.8,1352.9 423.1,1352.8 426.4,1352.8 429.7,1352.7 433.0,1352.6 436.3,1352.6 439.6,1352.5 442.9,1352.5 446.2,1352.4 449.5,1352.4 452.8,1352.4 456.1,1352.3" fill="none" stroke="#b85c6e" stroke-width="1.6"/>
<polyline points="60.3,1638.1 63.6,1637.9 66.9,1637.6 70.2,1637.3 73.5,1637.0 76.8,1636.7 80.1,1636.4 83.4,1636.0 86.7,1635.5 90.0,1635.1 93.3,1634.6 96.6,1634.0 99.9,1633.4 103.2,1632.7 106.5,1631.9 109.8,1631.1 113.1,1630.2 116.4,1629.2 119.7,1628.1 123.0,1626.9 126.3,1625.5 129.6,1624.1 132.9,1622.6 136.2,1620.9 139.5,1619.0 142.8,1617.0 146.0,1614.8 149.3,1612.4 152.6,1609.9 155.9,1607.1 159.2,1604.2 162.5,1601.0 165.8,1597.5 169.1,1593.9 172.4,1589.9 175.7,1585.8 179.0,1581.4 182.3,1576.7 185.6,1571.8 188.9,1566.6 192.2,1561.2 195.5,1555.6 198.8,1549.7 202.1,1543.7 205.4,1537.5 208.7,1531.2 212.0,1524.7 215.3,1518.1 218.6,1511.5 221.9,1504.8 225.2,1498.2 228.5,1491.6 231.8,1485.0 235.1,1478.6 238.4,1472.2 241.7,1466.0 245.0,1460.0 248.3,1454.2 251.6,1448.6 254.9,1443.3 258.2,1438.1 261.5,1433.3 264.8,1428.6 268.1,1424.2 271.4,1420.1 274.7,1416.2 278.0,1412.6 281.3,1409.2 284.6,1406.0 287.9,1403.1 291.2,1400.4 294.5,1397.8 297.8,1395.5 301.1,1393.4 304.4,1391.4 307.7,1389.5 311.0,1387.9 314.3,1386.3 317.6,1384.9 320.9,1383.6 324.2,1382.4 327.4,1381.4 330.7,1380.4 334.0,1379.5 337.3,1378.6 340.6,1377.9 343.9,1377.2 347.2,1376.6 350.5,1376.0 353.8,1375.5 357.1,1375.0 360.4,1374.6 363.7,1374.2 367.0,1373.9 370.3,1373.6 373.6,1373.3 376.9,1373.0 380.2,1372.8 383.5,1372.6 386.8,1372.4 390.1,1372.2 393.4,1372.0 396.7,1371.9 400.0,1371.7 403.3,1371.6 406.6,1371.5 409.9,1371.4 413.2,1371.3 416.5,1371.2 419.8,1371.2 423.1,1371.1 426.4,1371.0 429.7,1371.0 433.0,1370.9 436.3,1370.9 439.6,1370.9 442.9,1370.8 446.2,1370.8 449.5,1370.7 452.8,1370.7 456.1,1370.7" fill="none" stroke="#d66f68" stroke-width="1.6"/>
<polyline points="60.3,1643.2 63.6,1643.2 66.9,1643.2 70.2,1643.2 73.5,1643.2 76.8,1643.2 80.1,1643.2 83.4,1643.1 86.7,1643.1 90.0,1643.1 93.3,1643.1 96.6,1643.1 99.9,1643.0 103.2,1643.0 106.5,1643.0 109.8,1642.9 113.1,1642.9 116.4,1642.8 119.7,1642.8 123.0,1642.7 126.3,1642.6 129.6,1642.5 132.9,1642.4 136.2,1642.3 139.5,1642.1 142.8,1642.0 146.0,1641.8 149.3,1641.6 152.6,1641.3 155.9,1641.0 159.2,1640.7 162.5,1640.3 165.8,1639.9 169.1,1639.4 172.4,1638.8 175.7,1638.1 179.0,1637.4 182.3,1636.5 185.6,1635.5 188.9,1634.4 192.2,1633.1 195.5,1631.6 198.8,1629.9 202.1,1628.0 205.4,1625.9 208.7,1623.4 212.0,1620.7 215.3,1617.6 218.6,1614.1 221.9,1610.2 225.2,1605.8 228.5,1601.0 231.8,1595.7 235.1,1589.8 238.4,1583.4 241.7,1576.4 245.0,1568.9 248.3,1560.8 251.6,1552.2 254.9,1543.1 258.2,1533.6 261.5,1523.8 264.8,1513.6 268.1,1503.4 271.4,1493.0 274.7,1482.6 278.0,1472.4 281.3,1462.4 284.6,1452.7 287.9,1443.4 291.2,1434.6 294.5,1426.2 297.8,1418.4 301.1,1411.1 304.4,1404.4 307.7,1398.2 311.0,1392.6 314.3,1387.5 317.6,1382.9 320.9,1378.8 324.2,1375.1 327.4,1371.8 330.7,1368.8 334.0,1366.2 337.3,1363.9 340.6,1361.9 343.9,1360.1 347.2,1358.5 350.5,1357.1 353.8,1355.9 357.1,1354.9 360.4,1353.9 363.7,1353.1 367.0,1352.4 370.3,1351.8 373.6,1351.2 376.9,1350.8 380.2,1350.4 383.5,1350.0 386.8,1349.7 390.1,1349.4 393.4,1349.2 396.7,1349.0 400.0,1348.8 403.3,1348.6 406.6,1348.5 409.9,1348.4 413.2,1348.3 416.5,1348.2 419.8,1348.1 423.1,1348.0 426.4,1348.0 429.7,1347.9 433.0,1347.9 436.3,1347.9 439.6,1347.8 442.9,1347.8 446.2,1347.8 449.5,1347.7 452.8,1347.7 456.1,1347.7" fill="none" stroke="#d89a6e" stroke-width="1.6"/>
<polyline points="60.3,1634.7 63.6,1634.4 66.9,1634.1 70.2,1633.8 73.5,1633.5 76.8,1633.1 80.1,1632.7 83.4,1632.2 86.7,1631.7 90.0,1631.2 93.3,1630.5 96.6,1629.9 99.9,1629.1 103.2,1628.3 106.5,1627.5 109.8,1626.5 113.1,1625.4 116.4,1624.3 119.7,1623.0 123.0,1621.6 126.3,1620.1 129.6,1618.4 132.9,1616.6 136.2,1614.7 139.5,1612.5 142.8,1610.2 146.0,1607.7 149.3,1605.0 152.6,1602.1 155.9,1598.9 159.2,1595.5 162.5,1591.9 165.8,1588.0 169.1,1583.9 172.4,1579.5 175.7,1574.8 179.0,1569.9 182.3,1564.7 185.6,1559.2 188.9,1553.5 192.2,1547.6 195.5,1541.4 198.8,1535.1 202.1,1528.5 205.4,1521.8 208.7,1515.0 212.0,1508.1 215.3,1501.1 218.6,1494.2 221.9,1487.2 225.2,1480.2 228.5,1473.3 231.8,1466.6 235.1,1459.9 238.4,1453.5 241.7,1447.2 245.0,1441.1 248.3,1435.2 251.6,1429.6 254.9,1424.3 258.2,1419.2 261.5,1414.3 264.8,1409.7 268.1,1405.4 271.4,1401.4 274.7,1397.6 278.0,1394.1 281.3,1390.8 284.6,1387.7 287.9,1384.8 291.2,1382.2 294.5,1379.8 297.8,1377.5 301.1,1375.5 304.4,1373.6 307.7,1371.8 311.0,1370.2 314.3,1368.7 317.6,1367.4 320.9,1366.2 324.2,1365.0 327.4,1364.0 330.7,1363.1 334.0,1362.2 337.3,1361.4 340.6,1360.7 343.9,1360.1 347.2,1359.5 350.5,1359.0 353.8,1358.5 357.1,1358.0 360.4,1357.6 363.7,1357.3 367.0,1356.9 370.3,1356.6 373.6,1356.4 376.9,1356.1 380.2,1355.9 383.5,1355.7 386.8,1355.5 390.1,1355.3 393.4,1355.2 396.7,1355.0 400.0,1354.9 403.3,1354.8 406.6,1354.7 409.9,1354.6 413.2,1354.5 416.5,1354.4 419.8,1354.4 423.1,1354.3 426.4,1354.2 429.7,1354.2 433.0,1354.1 436.3,1354.1 439.6,1354.1 442.9,1354.0 446.2,1354.0 449.5,1354.0 452.8,1353.9 456.1,1353.9" fill="none" stroke="#e5c992" stroke-width="1.6"/>
<polyline points="60.3,1620.3 63.6,1620.3 66.9,1620.3 70.2,1620.2 73.5,1620.2 76.8,1620.2 80.1,1620.2 83.4,1620.1 86.7,1620.1 90.0,1620.1 93.3,1620.0 96.6,1620.0 99.9,1619.9 103.2,1619.8 106.5,1619.8 109.8,1619.7 113.1,1619.6 116.4,1619.5 119.7,1619.4 123.0,1619.2 126.3,1619.1 129.6,1618.9 132.9,1618.7 136.2,1618.5 139.5,1618.2 142.8,1617.9 146.0,1617.6 149.3,1617.2 152.6,1616.8 155.9,1616.3 159.2,1615.8 162.5,1615.2 165.8,1614.6 169.1,1613.8 172.4,1612.9 175.7,1612.0 179.0,1610.9 182.3,1609.7 185.6,1608.3 188.9,1606.8 192.2,1605.1 195.5,1603.2 198.8,1601.1 202.1,1598.8 205.4,1596.2 208.7,1593.3 212.0,1590.1 215.3,1586.6 218.6,1582.8 221.9,1578.6 225.2,1574.0 228.5,1569.1 231.8,1563.8 235.1,1558.1 238.4,1552.0 241.7,1545.5 245.0,1538.7 248.3,1531.6 251.6,1524.1 254.9,1516.5 258.2,1508.6 261.5,1500.6 264.8,1492.6 268.1,1484.5 271.4,1476.5 274.7,1468.6 278.0,1460.8 281.3,1453.3 284.6,1446.0 287.9,1439.1 291.2,1432.5 294.5,1426.2 297.8,1420.3 301.1,1414.8 304.4,1409.7 307.7,1405.0 311.0,1400.7 314.3,1396.7 317.6,1393.0 320.9,1389.7 324.2,1386.7 327.4,1384.0 330.7,1381.5 334.0,1379.3 337.3,1377.4 340.6,1375.6 343.9,1374.0 347.2,1372.6 350.5,1371.3 353.8,1370.2 357.1,1369.2 360.4,1368.3 363.7,1367.5 367.0,1366.8 370.3,1366.1 373.6,1365.6 376.9,1365.1 380.2,1364.6 383.5,1364.3 386.8,1363.9 390.1,1363.6 393.4,1363.3 396.7,1363.1 400.0,1362.9 403.3,1362.7 406.6,1362.6 409.9,1362.4 413.2,1362.3 416.5,1362.2 419.8,1362.1 423.1,1362.0 426.4,1361.9 429.7,1361.8 433.0,1361.8 436.3,1361.7 439.6,1361.7 442.9,1361.6 446.2,1361.6 449.5,1361.6 452.8,1361.5 456.1,1361.5" fill="none" stroke="#d3e09e" stroke-width="1.6"/>
<polyline points="60.3,1631.0 63.6,1631.0 66.9,1631.0 70.2,1631.0 73.5,1631.0 76.8,1631.0 80.1,1631.0 83.4,1631.0 86.7,1631.0 90.0,1631.0 93.3,1631.0 96.6,1631.0 99.9,1630.9 103.2,1630.9 106.5,1630.9 109.8,1630.9 113.1,1630.9 116.4,1630.8 119.7,1630.8 123.0,1630.8 126.3,1630.7 129.6,1630.7 132.9,1630.6 136.2,1630.6 139.5,1630.5 142.8,1630.4 146.0,1630.3 149.3,1630.2 152.6,1630.1 155.9,1630.0 159.2,1629.8 162.5,1629.6 165.8,1629.4 169.1,1629.2 172.4,1628.9 175.7,1628.6 179.0,1628.3 182.3,1627.9 185.6,1627.4 188.9,1626.9 192.2,1626.3 195.5,1625.6 198.8,1624.8 202.1,1624.0 205.4,1623.0 208.7,1621.8 212.0,1620.5 215.3,1619.1 218.6,1617.4 221.9,1615.6 225.2,1613.5 228.5,1611.1 231.8,1608.5 235.1,1605.5 238.4,1602.2 241.7,1598.5 245.0,1594.4 248.3,1589.9 251.6,1584.9 254.9,1579.4 258.2,1573.5 261.5,1567.1 264.8,1560.2 268.1,1552.8 271.4,1545.0 274.7,1536.7 278.0,1528.1 281.3,1519.2 284.6,1510.0 287.9,1500.7 291.2,1491.3 294.5,1481.9 297.8,1472.6 301.1,1463.4 304.4,1454.5 307.7,1445.9 311.0,1437.7 314.3,1429.9 317.6,1422.6 320.9,1415.7 324.2,1409.3 327.4,1403.4 330.7,1398.0 334.0,1393.1 337.3,1388.6 340.6,1384.5 343.9,1380.8 347.2,1377.5 350.5,1374.6 353.8,1372.0 357.1,1369.6 360.4,1367.5 363.7,1365.7 367.0,1364.0 370.3,1362.6 373.6,1361.3 376.9,1360.2 380.2,1359.2 383.5,1358.3 386.8,1357.6 390.1,1356.9 393.4,1356.3 396.7,1355.8 400.0,1355.3 403.3,1354.9 406.6,1354.6 409.9,1354.3 413.2,1354.0 416.5,1353.8 419.8,1353.6 423.1,1353.4 426.4,1353.3 429.7,1353.1 433.0,1353.0 436.3,1352.9 439.6,1352.8 442.9,1352.7 446.2,1352.7 449.5,1352.6 452.8,1352.5 456.1,1352.5" fill="none" stroke="#a6d1a5" stroke-width="1.6"/>
<polyline points="60.3,1643.2 63.6,1643.2 66.9,1643.2 70.2,1643.2 73.5,1643.2 76.8,1643.2 80.1,1643.2 83.4,1643.2 86.7,1643.2 90.0,1643.2 93.3,1643.2 96.6,1643.2 99.9,1643.2 103.2,1643.2 106.5,1643.1 109.8,1643.1 113.1,1643.1 116.4,1643.1 119.7,1643.1 123.0,1643.0 126.3,1643.0 129.6,1643.0 132.9,1642.9 136.2,1642.9 139.5,1642.8 142.8,1642.8 146.0,1642.7 149.3,1642.6 152.6,1642.5 155.9,1642.4 159.2,1642.3 162.5,1642.2 165.8,1642.0 169.1,1641.8 172.4,1641.6 175.7,1641.4 179.0,1641.1 182.3,1640.8 185.6,1640.4 188.9,1640.0 192.2,1639.6 195.5,1639.1 198.8,1638.5 202.1,1637.8 205.4,1637.0 208.7,1636.1 212.0,1635.1 215.3,1634.0 218.6,1632.7 221.9,1631.2 225.2,1629.6 228.5,1627.7 231.8,1625.6 235.1,1623.2 238.4,1620.5 241.7,1617.5 245.0,1614.2 248.3,1610.5 251.6,1606.3 254.9,1601.7 258.2,1596.7 261.5,1591.2 264.8,1585.2 268.1,1578.7 271.4,1571.6 274.7,1564.1 278.0,1556.1 281.3,1547.7 284.6,1538.9 287.9,1529.7 291.2,1520.3 294.5,1510.7 297.8,1501.0 301.1,1491.3 304.4,1481.6 307.7,1472.1 311.0,1462.9 314.3,1453.9 317.6,1445.4 320.9,1437.2 324.2,1429.5 327.4,1422.3 330.7,1415.6 334.0,1409.4 337.3,1403.7 340.6,1398.5 343.9,1393.8 347.2,1389.5 350.5,1385.6 353.8,1382.1 357.1,1379.0 360.4,1376.2 363.7,1373.7 367.0,1371.5 370.3,1369.6 373.6,1367.8 376.9,1366.3 380.2,1364.9 383.5,1363.7 386.8,1362.7 390.1,1361.8 393.4,1361.0 396.7,1360.2 400.0,1359.6 403.3,1359.1 406.6,1358.6 409.9,1358.2 413.2,1357.8 416.5,1357.5 419.8,1357.2 423.1,1356.9 426.4,1356.7 429.7,1356.5 433.0,1356.4 436.3,1356.2 439.6,1356.1 442.9,1356.0 446.2,1355.9 449.5,1355.8 452.8,1355.7 456.1,1355.7" fill="none" stroke="#80bda0" stroke-width="1.6"/>
<polyline points="60.3,1640.2 63.6,1640.2 66.9,1640.2 70.2,1640.2 73.5,1640.2 76.8,1640.2 80.1,1640.2 83.4,1640.2 86.7,1640.2 90.0,1640.2 93.3,1640.2 96.6,1640.2 99.9,1640.2 103.2,1640.2 106.5,1640.2 109.8,1640.2 113.1,1640.2 116.4,1640.2 119.7,1640.2 123.0,1640.2 126.3,1640.1 129.6,1640.1 132.9,1640.1 136.2,1640.1 139.5,1640.1 142.8,1640.1 146.0,1640.1 149.3,1640.0 152.6,1640.0 155.9,1640.0 159.2,1639.9 162.5,1639.9 165.8,1639.9 169.1,1639.8 172.4,1639.7 175.7,1639.7 179.0,1639.6 182.3,1639.5 185.6,1639.4 188.9,1639.2 192.2,1639.1 195.5,1638.9 198.8,1638.7 202.1,1638.5 205.4,1638.2 208.7,1637.9 212.0,1637.5 215.3,1637.1 218.6,1636.6 221.9,1636.1 225.2,1635.4 228.5,1634.7 231.8,1633.9 235.1,1632.9 238.4,1631.8 241.7,1630.5 245.0,1629.1 248.3,1627.4 251.6,1625.5 254.9,1623.3 258.2,1620.9 261.5,1618.1 264.8,1614.9 268.1,1611.4 271.4,1607.4 274.7,1603.0 278.0,1598.0 281.3,1592.6 284.6,1586.6 287.9,1580.0 291.2,1572.9 294.5,1565.2 297.8,1557.0 301.1,1548.4 304.4,1539.3 307.7,1529.8 311.0,1520.1 314.3,1510.2 317.6,1500.2 320.9,1490.3 324.2,1480.5 327.4,1470.9 330.7,1461.6 334.0,1452.8 337.3,1444.4 340.6,1436.5 343.9,1429.1 347.2,1422.3 350.5,1416.1 353.8,1410.4 357.1,1405.2 360.4,1400.6 363.7,1396.4 367.0,1392.7 370.3,1389.3 373.6,1386.4 376.9,1383.8 380.2,1381.5 383.5,1379.5 386.8,1377.7 390.1,1376.2 393.4,1374.8 396.7,1373.7 400.0,1372.6 403.3,1371.7 406.6,1371.0 409.9,1370.3 413.2,1369.7 416.5,1369.2 419.8,1368.7 423.1,1368.4 426.4,1368.0 429.7,1367.7 433.0,1367.5 436.3,1367.3 439.6,1367.1 442.9,1366.9 446.2,1366.8 449.5,1366.7 452.8,1366.6 456.1,1366.5" fill="none" stroke="#6b8ca8" stroke-width="1.6"/>
<polyline points="60.3,1641.7 63.6,1641.7 66.9,1641.7 70.2,1641.7 73.5,1641.7 76.8,1641.7 80.1,1641.7 83.4,1641.6 86.7,1641.6 90.0,1641.6 93.3,1641.6 96.6,1641.6 99.9,1641.6 103.2,1641.5 106.5,1641.5 109.8,1641.5 113.1,1641.4 116.4,1641.4 119.7,1641.3 123.0,1641.3 126.3,1641.2 129.6,1641.1 132.9,1641.1 136.2,1641.0 139.5,1640.9 142.8,1640.7 146.0,1640.6 149.3,1640.4 152.6,1640.2 155.9,1640.0 159.2,1639.8 162.5,1639.5 165.8,1639.2 169.1,1638.8 172.4,1638.4 175.7,1637.9 179.0,1637.4 182.3,1636.8 185.6,1636.1 188.9,1635.3 192.2,1634.3 195.5,1633.3 198.8,1632.1 202.1,1630.8 205.4,1629.3 208.7,1627.5 212.0,1625.6 215.3,1623.4 218.6,1620.9 221.9,1618.1 225.2,1615.0 228.5,1611.5 231.8,1607.5 235.1,1603.2 238.4,1598.4 241.7,1593.0 245.0,1587.2 248.3,1580.8 251.6,1573.8 254.9,1566.3 258.2,1558.2 261.5,1549.6 264.8,1540.5 268.1,1530.9 271.4,1520.9 274.7,1510.5 278.0,1499.9 281.3,1489.1 284.6,1478.3 287.9,1467.4 291.2,1456.7 294.5,1446.2 297.8,1436.0 301.1,1426.2 304.4,1416.8 307.7,1407.9 311.0,1399.6 314.3,1391.8 317.6,1384.5 320.9,1377.9 324.2,1371.7 327.4,1366.2 330.7,1361.1 334.0,1356.5 337.3,1352.4 340.6,1348.6 343.9,1345.3 347.2,1342.4 350.5,1339.7 353.8,1337.4 357.1,1335.3 360.4,1333.5 363.7,1331.9 367.0,1330.4 370.3,1329.2 373.6,1328.1 376.9,1327.1 380.2,1326.2 383.5,1325.5 386.8,1324.8 390.1,1324.2 393.4,1323.7 396.7,1323.3 400.0,1322.9 403.3,1322.5 406.6,1322.2 409.9,1322.0 413.2,1321.8 416.5,1321.6 419.8,1321.4 423.1,1321.2 426.4,1321.1 429.7,1321.0 433.0,1320.9 436.3,1320.8 439.6,1320.7 442.9,1320.6 446.2,1320.6 449.5,1320.5 452.8,1320.5 456.1,1320.4" fill="none" stroke="#8a90d2" stroke-width="1.6"/>
<line x1="104.3" y1="1617.3" x2="104.3" y2="1573.1" stroke="#d3e09e" stroke-width="1.3"/>
<line x1="99.8" y1="1617.3" x2="108.8" y2="1617.3" stroke="#d3e09e" stroke-width="1.3"/>
<line x1="99.8" y1="1573.1" x2="108.8" y2="1573.1" stroke="#d3e09e" stroke-width="1.3"/>
<circle cx="104.3" cy="1570.1" r="2.7" fill="#bccc38"/>
<circle cx="104.3" cy="1617.3" r="2.7" fill="#bccc38"/>
<line x1="148.2" y1="1623.4" x2="148.2" y2="1588.4" stroke="#d3e09e" stroke-width="1.3"/>
<line x1="143.7" y1="1623.4" x2="152.7" y2="1623.4" stroke="#d3e09e" stroke-width="1.3"/>
<line x1="143.7" y1="1588.4" x2="152.7" y2="1588.4" stroke="#d3e09e" stroke-width="1.3"/>
<circle cx="148.2" cy="1585.3" r="2.7" fill="#bccc38"/>
<circle cx="148.2" cy="1620.4" r="2.7" fill="#bccc38"/>
<line x1="192.2" y1="1615.8" x2="192.2" y2="1591.4" stroke="#d3e09e" stroke-width="1.3"/>
<line x1="187.7" y1="1615.8" x2="196.7" y2="1615.8" stroke="#d3e09e" stroke-width="1.3"/>
<line x1="187.7" y1="1591.4" x2="196.7" y2="1591.4" stroke="#d3e09e" stroke-width="1.3"/>
<circle cx="192.2" cy="1593.0" r="2.7" fill="#bccc38"/>
<circle cx="192.2" cy="1615.8" r="2.7" fill="#bccc38"/>
<line x1="280.2" y1="1471.0" x2="280.2" y2="1442.1" stroke="#d3e09e" stroke-width="1.3"/>
<line x1="275.7" y1="1471.0" x2="284.7" y2="1471.0" stroke="#d3e09e" stroke-width="1.3"/>
<line x1="275.7" y1="1442.1" x2="284.7" y2="1442.1" stroke="#d3e09e" stroke-width="1.3"/>
<line x1="280.2" y1="1615.8" x2="280.2" y2="1588.4" stroke="#6b8ca8" stroke-width="1.3"/>
<line x1="275.7" y1="1615.8" x2="284.7" y2="1615.8" stroke="#6b8ca8" stroke-width="1.3"/>
<line x1="275.7" y1="1588.4" x2="284.7" y2="1588.4" stroke="#6b8ca8" stroke-width="1.3"/>
<line x1="324.2" y1="1512.2" x2="324.2" y2="1481.7" stroke="#6b8ca8" stroke-width="1.3"/>
<line x1="319.7" y1="1512.2" x2="328.7" y2="1512.2" stroke="#6b8ca8" stroke-width="1.3"/>
<line x1="319.7" y1="1481.7" x2="328.7" y2="1481.7" stroke="#6b8ca8" stroke-width="1.3"/>
<line x1="368.1" y1="1410.1" x2="368.1" y2="1396.4" stroke="#6b8ca8" stroke-width="1.3"/>
<line x1="363.6" y1="1410.1" x2="372.6" y2="1410.1" stroke="#6b8ca8" stroke-width="1.3"/>
<line x1="363.6" y1="1396.4" x2="372.6" y2="1396.4" stroke="#6b8ca8" stroke-width="1.3"/>
<line x1="368.1" y1="1439.0" x2="368.1" y2="1429.9" stroke="#8c4f65" stroke-width="1.3"/>
<line x1="363.6" y1="1439.0" x2="372.6" y2="1439.0" stroke="#8c4f65" stroke-width="1.3"/>
<line x1="363.6" y1="1429.9" x2="372.6" y2="1429.9" stroke="#8c4f65" stroke-width="1.3"/>
<circle cx="368.1" cy="1428.4" r="2.7" fill="#9a2a55"/>
<line x1="412.1" y1="1443.6" x2="412.1" y2="1429.9" stroke="#8c4f65" stroke-width="1.3"/>
<line x1="407.6" y1="1443.6" x2="416.6" y2="1443.6" stroke="#8c4f65" stroke-width="1.3"/>
<line x1="407.6" y1="1429.9" x2="416.6" y2="1429.9" stroke="#8c4f65" stroke-width="1.3"/>
<circle cx="412.1" cy="1426.8" r="2.7" fill="#9a2a55"/>
<circle cx="412.1" cy="1443.6" r="2.7" fill="#9a2a55"/>
<line x1="456.1" y1="1443.6" x2="456.1" y2="1431.4" stroke="#8c4f65" stroke-width="1.3"/>
<line x1="451.6" y1="1443.6" x2="460.6" y2="1443.6" stroke="#8c4f65" stroke-width="1.3"/>
<line x1="451.6" y1="1431.4" x2="460.6" y2="1431.4" stroke="#8c4f65" stroke-width="1.3"/>
<circle cx="456.1" cy="1429.9" r="2.7" fill="#9a2a55"/>
<circle cx="456.1" cy="1445.1" r="2.7" fill="#9a2a55"/>
<line x1="368.1" y1="1332.4" x2="368.1" y2="1317.1" stroke="#8a90d2" stroke-width="1.3"/>
<line x1="363.6" y1="1332.4" x2="372.6" y2="1332.4" stroke="#8a90d2" stroke-width="1.3"/>
<line x1="363.6" y1="1317.1" x2="372.6" y2="1317.1" stroke="#8a90d2" stroke-width="1.3"/>
<line x1="236.2" y1="1608.2" x2="236.2" y2="1580.8" stroke="#b85c6e" stroke-width="1.3"/>
<line x1="231.7" y1="1608.2" x2="240.7" y2="1608.2" stroke="#b85c6e" stroke-width="1.3"/>
<line x1="231.7" y1="1580.8" x2="240.7" y2="1580.8" stroke="#b85c6e" stroke-width="1.3"/>
<line x1="456.1" y1="1373.5" x2="456.1" y2="1346.1" stroke="#80bda0" stroke-width="1.3"/>
<line x1="451.6" y1="1373.5" x2="460.6" y2="1373.5" stroke="#80bda0" stroke-width="1.3"/>
<line x1="451.6" y1="1346.1" x2="460.6" y2="1346.1" stroke="#80bda0" stroke-width="1.3"/>
<line x1="412.1" y1="1384.2" x2="412.1" y2="1343.0" stroke="#d89a6e" stroke-width="1.3"/>
<line x1="407.6" y1="1384.2" x2="416.6" y2="1384.2" stroke="#d89a6e" stroke-width="1.3"/>
<line x1="407.6" y1="1343.0" x2="416.6" y2="1343.0" stroke="#d89a6e" stroke-width="1.3"/>
<polygon points="60.3,1636.6 67.2,1649.5 53.4,1649.5" fill="#000"/>
<polygon points="104.3,1636.6 111.2,1649.5 97.3,1649.5" fill="#000"/>
<polygon points="148.2,1636.6 155.2,1649.5 141.3,1649.5" fill="#000"/>
<polygon points="192.2,1636.6 199.2,1649.5 185.3,1649.5" fill="#000"/>
<polygon points="236.2,1636.6 243.1,1649.5 229.3,1649.5" fill="#000"/>
<polygon points="280.2,1636.6 287.1,1649.5 273.2,1649.5" fill="#000"/>
<polygon points="324.2,1636.6 331.1,1649.5 317.2,1649.5" fill="#000"/>
<polygon points="368.1,1636.6 375.1,1649.5 361.2,1649.5" fill="#000"/>
<polygon points="412.1,1632.0 419.0,1644.9 405.2,1644.9" fill="#000"/>
<polygon points="456.1,1629.7 463.0,1642.7 449.1,1642.7" fill="#000"/>
<circle cx="60.3" cy="1643.2" r="5.3" fill="#8c4f65"/>
<circle cx="104.3" cy="1643.1" r="5.3" fill="#8c4f65"/>
<circle cx="148.2" cy="1642.2" r="5.3" fill="#8c4f65"/>
<circle cx="192.2" cy="1636.8" r="5.3" fill="#8c4f65"/>
<circle cx="236.2" cy="1609.4" r="5.3" fill="#8c4f65"/>
<circle cx="280.2" cy="1530.1" r="5.3" fill="#8c4f65"/>
<circle cx="324.2" cy="1459.0" r="5.3" fill="#8c4f65"/>
<circle cx="368.1" cy="1437.7" r="5.3" fill="#8c4f65"/>
<circle cx="412.1" cy="1433.7" r="5.3" fill="#8c4f65"/>
<circle cx="456.1" cy="1433.1" r="5.3" fill="#8c4f65"/>
<rect x="54.8" y="1637.7" width="11.0" height="11.0" fill="#b85c6e"/>
<rect x="98.8" y="1637.5" width="11.0" height="11.0" fill="#b85c6e"/>
<rect x="142.7" y="1636.1" width="11.0" height="11.0" fill="#b85c6e"/>
<rect x="186.7" y="1628.3" width="11.0" height="11.0" fill="#b85c6e"/>
<rect x="230.7" y="1588.4" width="11.0" height="11.0" fill="#b85c6e"/>
<rect x="274.7" y="1476.8" width="11.0" height="11.0" fill="#b85c6e"/>
<rect x="318.7" y="1380.9" width="11.0" height="11.0" fill="#b85c6e"/>
<rect x="362.6" y="1352.9" width="11.0" height="11.0" fill="#b85c6e"/>
<rect x="406.6" y="1347.7" width="11.0" height="11.0" fill="#b85c6e"/>
<rect x="450.6" y="1346.8" width="11.0" height="11.0" fill="#b85c6e"/>
<polygon points="60.3,1631.4 67.2,1644.3 53.4,1644.3" fill="#d66f68"/>
<polygon points="104.3,1625.7 111.2,1638.7 97.3,1638.7" fill="#d66f68"/>
<polygon points="148.2,1606.6 155.2,1619.5 141.3,1619.5" fill="#d66f68"/>
<polygon points="192.2,1554.5 199.2,1567.5 185.3,1567.5" fill="#d66f68"/>
<polygon points="236.2,1469.8 243.1,1482.7 229.3,1482.7" fill="#d66f68"/>
<polygon points="280.2,1403.7 287.1,1416.6 273.2,1416.6" fill="#d66f68"/>
<polygon points="324.2,1375.8 331.1,1388.7 317.2,1388.7" fill="#d66f68"/>
<polygon points="368.1,1367.1 375.1,1380.0 361.2,1380.0" fill="#d66f68"/>
<polygon points="412.1,1364.7 419.0,1377.6 405.2,1377.6" fill="#d66f68"/>
<polygon points="456.1,1364.0 463.0,1377.0 449.1,1377.0" fill="#d66f68"/>
<polygon points="60.3,1649.7 66.9,1637.1 53.7,1637.1" fill="#d89a6e"/>
<polygon points="104.3,1649.5 110.9,1636.9 97.7,1636.9" fill="#d89a6e"/>
<polygon points="148.2,1648.1 154.8,1635.6 141.6,1635.6" fill="#d89a6e"/>
<polygon points="192.2,1639.6 198.8,1627.0 185.6,1627.0" fill="#d89a6e"/>
<polygon points="236.2,1594.2 242.8,1581.6 229.6,1581.6" fill="#d89a6e"/>
<polygon points="280.2,1472.2 286.8,1459.7 273.6,1459.7" fill="#d89a6e"/>
<polygon points="324.2,1381.5 330.8,1369.0 317.6,1369.0" fill="#d89a6e"/>
<polygon points="368.1,1358.7 374.7,1346.1 361.5,1346.1" fill="#d89a6e"/>
<polygon points="412.1,1354.8 418.7,1342.2 405.5,1342.2" fill="#d89a6e"/>
<polygon points="456.1,1354.2 462.7,1341.6 449.5,1341.6" fill="#d89a6e"/>
<polygon points="60.3,1628.2 66.8,1634.7 60.3,1641.2 53.8,1634.7" fill="#e5c992"/>
<polygon points="104.3,1621.6 110.8,1628.1 104.3,1634.6 97.8,1628.1" fill="#e5c992"/>
<polygon points="148.2,1599.4 154.7,1605.9 148.2,1612.4 141.7,1605.9" fill="#e5c992"/>
<polygon points="192.2,1541.1 198.7,1547.6 192.2,1554.1 185.7,1547.6" fill="#e5c992"/>
<polygon points="236.2,1451.3 242.7,1457.8 236.2,1464.3 229.7,1457.8" fill="#e5c992"/>
<polygon points="280.2,1385.3 286.7,1391.8 280.2,1398.3 273.7,1391.8" fill="#e5c992"/>
<polygon points="324.2,1358.5 330.7,1365.0 324.2,1371.5 317.7,1365.0" fill="#e5c992"/>
<polygon points="368.1,1350.3 374.6,1356.8 368.1,1363.3 361.6,1356.8" fill="#e5c992"/>
<polygon points="412.1,1348.0 418.6,1354.5 412.1,1361.0 405.6,1354.5" fill="#e5c992"/>
<polygon points="456.1,1347.4 462.6,1353.9 456.1,1360.4 449.6,1353.9" fill="#e5c992"/>
<circle cx="60.3" cy="1628.0" r="6.8" fill="#d3e09e"/>
<circle cx="104.3" cy="1605.2" r="6.8" fill="#d3e09e"/>
<circle cx="148.2" cy="1605.2" r="6.8" fill="#d3e09e"/>
<circle cx="192.2" cy="1602.1" r="6.8" fill="#d3e09e"/>
<circle cx="236.2" cy="1550.3" r="6.8" fill="#d3e09e"/>
<circle cx="280.2" cy="1454.3" r="6.8" fill="#d3e09e"/>
<circle cx="324.2" cy="1386.7" r="6.8" fill="#d3e09e"/>
<circle cx="368.1" cy="1366.5" r="6.8" fill="#d3e09e"/>
<circle cx="412.1" cy="1362.3" r="6.8" fill="#d3e09e"/>
<circle cx="456.1" cy="1361.5" r="6.8" fill="#d3e09e"/>
<rect x="54.8" y="1625.5" width="11.0" height="11.0" fill="#a6d1a5"/>
<rect x="98.8" y="1625.4" width="11.0" height="11.0" fill="#a6d1a5"/>
<rect x="142.7" y="1624.8" width="11.0" height="11.0" fill="#a6d1a5"/>
<rect x="186.7" y="1620.8" width="11.0" height="11.0" fill="#a6d1a5"/>
<rect x="230.7" y="1598.9" width="11.0" height="11.0" fill="#a6d1a5"/>
<rect x="274.7" y="1516.7" width="11.0" height="11.0" fill="#a6d1a5"/>
<rect x="318.7" y="1403.8" width="11.0" height="11.0" fill="#a6d1a5"/>
<rect x="362.6" y="1358.0" width="11.0" height="11.0" fill="#a6d1a5"/>
<rect x="406.6" y="1348.6" width="11.0" height="11.0" fill="#a6d1a5"/>
<rect x="450.6" y="1347.0" width="11.0" height="11.0" fill="#a6d1a5"/>
<polygon points="60.3,1636.6 67.2,1649.5 53.4,1649.5" fill="#80bda0"/>
<polygon points="104.3,1636.5 111.2,1649.4 97.3,1649.4" fill="#80bda0"/>
<polygon points="148.2,1636.0 155.2,1648.9 141.3,1648.9" fill="#80bda0"/>
<polygon points="192.2,1632.9 199.2,1645.8 185.3,1645.8" fill="#80bda0"/>
<polygon points="236.2,1615.7 243.1,1628.6 229.3,1628.6" fill="#80bda0"/>
<polygon points="280.2,1543.9 287.1,1556.8 273.2,1556.8" fill="#80bda0"/>
<polygon points="324.2,1422.9 331.1,1435.8 317.2,1435.8" fill="#80bda0"/>
<polygon points="368.1,1364.2 375.1,1377.1 361.2,1377.1" fill="#80bda0"/>
<polygon points="412.1,1351.3 419.0,1364.2 405.2,1364.2" fill="#80bda0"/>
<polygon points="456.1,1349.0 463.0,1361.9 449.1,1361.9" fill="#80bda0"/>
<polygon points="60.3,1646.7 66.9,1634.1 53.7,1634.1" fill="#6b8ca8"/>
<polygon points="104.3,1646.6 110.9,1634.1 97.7,1634.1" fill="#6b8ca8"/>
<polygon points="148.2,1646.5 154.8,1634.0 141.6,1634.0" fill="#6b8ca8"/>
<polygon points="192.2,1645.5 198.8,1633.0 185.6,1633.0" fill="#6b8ca8"/>
<polygon points="236.2,1639.0 242.8,1626.5 229.6,1626.5" fill="#6b8ca8"/>
<polygon points="280.2,1600.9 286.8,1588.4 273.6,1588.4" fill="#6b8ca8"/>
<polygon points="324.2,1486.9 330.8,1474.4 317.6,1474.4" fill="#6b8ca8"/>
<polygon points="368.1,1398.0 374.7,1385.4 361.5,1385.4" fill="#6b8ca8"/>
<polygon points="412.1,1376.4 418.7,1363.8 405.5,1363.8" fill="#6b8ca8"/>
<polygon points="456.1,1372.9 462.7,1360.4 449.5,1360.4" fill="#6b8ca8"/>
<polygon points="60.3,1635.2 66.8,1641.7 60.3,1648.2 53.8,1641.7" fill="#8a90d2"/>
<polygon points="104.3,1635.0 110.8,1641.5 104.3,1648.0 97.8,1641.5" fill="#8a90d2"/>
<polygon points="148.2,1634.0 154.7,1640.5 148.2,1647.0 141.7,1640.5" fill="#8a90d2"/>
<polygon points="192.2,1627.8 198.7,1634.3 192.2,1640.8 185.7,1634.3" fill="#8a90d2"/>
<polygon points="236.2,1595.1 242.7,1601.6 236.2,1608.1 229.7,1601.6" fill="#8a90d2"/>
<polygon points="280.2,1486.2 286.7,1492.7 280.2,1499.2 273.7,1492.7" fill="#8a90d2"/>
<polygon points="324.2,1365.2 330.7,1371.7 324.2,1378.2 317.7,1371.7" fill="#8a90d2"/>
<polygon points="368.1,1323.5 374.6,1330.0 368.1,1336.5 361.6,1330.0" fill="#8a90d2"/>
<polygon points="412.1,1315.3 418.6,1321.8 412.1,1328.3 405.6,1321.8" fill="#8a90d2"/>
<polygon points="456.1,1313.9 462.6,1320.4 456.1,1326.9 449.6,1320.4" fill="#8a90d2"/>
<line x1="551.3" y1="1301.8" x2="578.3" y2="1301.8" stroke="#8c4f65" stroke-width="1.6"/>
<circle cx="564.8" cy="1301.8" r="5.0" fill="#8c4f65"/>
<text x="594.6" y="1309.6" font-family='"Liberation Sans", sans-serif' font-size="21.3" font-weight="normal" text-anchor="start" fill="#000">PV2-S8</text>
<line x1="551.3" y1="1336.6" x2="578.3" y2="1336.6" stroke="#b85c6e" stroke-width="1.6"/>
<rect x="559.6" y="1331.3" width="10.4" height="10.4" fill="#b85c6e"/>
<text x="594.6" y="1344.4" font-family='"Liberation Sans", sans-serif' font-size="21.3" font-weight="normal" text-anchor="start" fill="#000">PV2-C23</text>
<line x1="551.3" y1="1371.3" x2="578.3" y2="1371.3" stroke="#d66f68" stroke-width="1.6"/>
<polygon points="564.8,1365.0 571.4,1377.3 558.2,1377.3" fill="#d66f68"/>
<text x="594.6" y="1379.1" font-family='"Liberation Sans", sans-serif' font-size="21.3" font-weight="normal" text-anchor="start" fill="#000">PV2-S26</text>
<line x1="551.3" y1="1406.1" x2="578.3" y2="1406.1" stroke="#d89a6e" stroke-width="1.6"/>
<polygon points="564.8,1412.3 571.1,1400.3 558.5,1400.3" fill="#d89a6e"/>
<text x="594.6" y="1413.9" font-family='"Liberation Sans", sans-serif' font-size="21.3" font-weight="normal" text-anchor="start" fill="#000">PV2-I70</text>
<line x1="551.3" y1="1440.9" x2="578.3" y2="1440.9" stroke="#e5c992" stroke-width="1.6"/>
<polygon points="564.8,1434.7 571.0,1440.9 564.8,1447.1 558.6,1440.9" fill="#e5c992"/>
<text x="594.6" y="1448.7" font-family='"Liberation Sans", sans-serif' font-size="21.3" font-weight="normal" text-anchor="start" fill="#000">PV2-S71</text>
<line x1="551.3" y1="1475.7" x2="578.3" y2="1475.7" stroke="#d3e09e" stroke-width="1.6"/>
<circle cx="564.8" cy="1475.7" r="6.5" fill="#d3e09e"/>
<text x="594.6" y="1483.5" font-family='"Liberation Sans", sans-serif' font-size="21.3" font-weight="normal" text-anchor="start" fill="#000">PV2-N74</text>
<line x1="551.3" y1="1510.4" x2="578.3" y2="1510.4" stroke="#a6d1a5" stroke-width="1.6"/>
<rect x="559.6" y="1505.2" width="10.4" height="10.4" fill="#a6d1a5"/>
<text x="594.6" y="1518.2" font-family='"Liberation Sans", sans-serif' font-size="21.3" font-weight="normal" text-anchor="start" fill="#000">PV2-Q82</text>
<line x1="551.3" y1="1545.2" x2="578.3" y2="1545.2" stroke="#80bda0" stroke-width="1.6"/>
<polygon points="564.8,1538.9 571.4,1551.1 558.2,1551.1" fill="#80bda0"/>
<text x="594.6" y="1553.0" font-family='"Liberation Sans", sans-serif' font-size="21.3" font-weight="normal" text-anchor="start" fill="#000">PV2-S85</text>
<line x1="551.3" y1="1580.0" x2="578.3" y2="1580.0" stroke="#6b8ca8" stroke-width="1.6"/>
<polygon points="564.8,1586.1 571.1,1574.2 558.5,1574.2" fill="#6b8ca8"/>
<text x="594.6" y="1587.8" font-family='"Liberation Sans", sans-serif' font-size="21.3" font-weight="normal" text-anchor="start" fill="#000">PV2-C96</text>
<line x1="551.3" y1="1614.7" x2="578.3" y2="1614.7" stroke="#8a90d2" stroke-width="1.6"/>
<polygon points="564.8,1608.6 571.0,1614.7 564.8,1620.9 558.6,1614.7" fill="#8a90d2"/>
<text x="594.6" y="1622.5" font-family='"Liberation Sans", sans-serif' font-size="21.3" font-weight="normal" text-anchor="start" fill="#000">PV2-WT</text>
<line x1="551.3" y1="1649.5" x2="578.3" y2="1649.5" stroke="#000" stroke-width="1.6"/>
<polygon points="564.8,1643.2 571.4,1655.4 558.2,1655.4" fill="#000"/>
<text x="594.6" y="1657.3" font-family='"Liberation Sans", sans-serif' font-size="21.3" font-weight="normal" text-anchor="start" fill="#000">BSA</text>
<line x1="776.3" y1="1265.0" x2="776.3" y2="1671.0" stroke="#777" stroke-width="1.4"/>
<line x1="776.3" y1="1661.6" x2="1214.6" y2="1661.6" stroke="#9a9a9a" stroke-width="1.6"/>
<line x1="922.4" y1="1661.6" x2="922.4" y2="1671.0" stroke="#9a9a9a" stroke-width="1.4"/>
<line x1="1068.5" y1="1661.6" x2="1068.5" y2="1671.0" stroke="#9a9a9a" stroke-width="1.4"/>
<line x1="1214.6" y1="1661.6" x2="1214.6" y2="1671.0" stroke="#9a9a9a" stroke-width="1.4"/>
<text x="776.3" y="1693.0" font-family='"Liberation Sans", sans-serif' font-size="20" font-weight="bold" text-anchor="middle" fill="#000">-2</text>
<text x="922.4" y="1693.0" font-family='"Liberation Sans", sans-serif' font-size="20" font-weight="bold" text-anchor="middle" fill="#000">0</text>
<text x="1068.5" y="1693.0" font-family='"Liberation Sans", sans-serif' font-size="20" font-weight="bold" text-anchor="middle" fill="#000">2</text>
<text x="1214.6" y="1693.0" font-family='"Liberation Sans", sans-serif' font-size="20" font-weight="bold" text-anchor="middle" fill="#000">4</text>
<line x1="767.0" y1="1646.3" x2="776.3" y2="1646.3" stroke="#888" stroke-width="1.4"/>
<text x="764.3" y="1653.5" font-family='"Liberation Sans", sans-serif' font-size="20" font-weight="bold" text-anchor="end" fill="#000">0</text>
<line x1="767.0" y1="1493.9" x2="776.3" y2="1493.9" stroke="#888" stroke-width="1.4"/>
<text x="764.3" y="1501.1" font-family='"Liberation Sans", sans-serif' font-size="20" font-weight="bold" text-anchor="end" fill="#000">1</text>
<line x1="767.0" y1="1341.5" x2="776.3" y2="1341.5" stroke="#888" stroke-width="1.4"/>
<text x="764.3" y="1348.7" font-family='"Liberation Sans", sans-serif' font-size="20" font-weight="bold" text-anchor="end" fill="#000">2</text>
<text x="995.3" y="1720.5" font-family='"Liberation Serif", serif' font-size="21.4" font-weight="normal" text-anchor="middle" fill="#000">Concentration, log[nM]</text>
<text transform="translate(738.6,1492.5) rotate(-90)" font-family='"Liberation Sans", sans-serif' font-size="22" font-weight="bold">OD<tspan font-size="16.5" font-weight="normal" dy="4.7">450</tspan></text>
<polyline points="777.1,1643.3 1119.6,1643.3 1137.9,1636.4 1172.9,1636.4" fill="none" stroke="#000" stroke-width="1.6"/>
<polyline points="777.1,1644.4 780.4,1644.4 783.7,1644.3 787.0,1644.3 790.3,1644.2 793.6,1644.2 796.9,1644.1 800.2,1644.1 803.5,1644.0 806.8,1643.9 810.1,1643.9 813.4,1643.8 816.7,1643.7 820.0,1643.6 823.3,1643.5 826.6,1643.4 829.9,1643.2 833.2,1643.1 836.5,1642.9 839.8,1642.8 843.1,1642.6 846.4,1642.4 849.7,1642.2 853.0,1641.9 856.3,1641.7 859.6,1641.4 862.9,1641.1 866.2,1640.7 869.5,1640.4 872.8,1640.0 876.0,1639.5 879.3,1639.0 882.6,1638.5 885.9,1638.0 889.2,1637.4 892.5,1636.7 895.8,1636.0 899.1,1635.2 902.4,1634.3 905.7,1633.4 909.0,1632.4 912.3,1631.3 915.6,1630.2 918.9,1628.9 922.2,1627.5 925.5,1626.1 928.8,1624.5 932.1,1622.7 935.4,1620.9 938.7,1618.9 942.0,1616.8 945.3,1614.5 948.6,1612.0 951.9,1609.4 955.2,1606.6 958.5,1603.7 961.8,1600.5 965.1,1597.2 968.4,1593.6 971.7,1589.9 975.0,1586.0 978.3,1581.8 981.6,1577.5 984.9,1573.0 988.2,1568.3 991.5,1563.5 994.8,1558.5 998.1,1553.3 1001.4,1548.0 1004.7,1542.5 1008.0,1537.0 1011.3,1531.4 1014.6,1525.7 1017.9,1520.0 1021.2,1514.2 1024.5,1508.5 1027.8,1502.7 1031.1,1497.0 1034.4,1491.4 1037.7,1485.9 1041.0,1480.5 1044.3,1475.2 1047.6,1470.0 1050.9,1465.0 1054.2,1460.2 1057.5,1455.5 1060.7,1451.0 1064.0,1446.7 1067.3,1442.6 1070.6,1438.7 1073.9,1435.0 1077.2,1431.5 1080.5,1428.1 1083.8,1425.0 1087.1,1422.1 1090.4,1419.3 1093.7,1416.7 1097.0,1414.3 1100.3,1412.0 1103.6,1409.9 1106.9,1407.9 1110.2,1406.0 1113.5,1404.3 1116.8,1402.8 1120.1,1401.3 1123.4,1399.9 1126.7,1398.7 1130.0,1397.5 1133.3,1396.4 1136.6,1395.4 1139.9,1394.5 1143.2,1393.7 1146.5,1392.9 1149.8,1392.2 1153.1,1391.5 1156.4,1390.9 1159.7,1390.4 1163.0,1389.9 1166.3,1389.4 1169.6,1388.9 1172.9,1388.6" fill="none" stroke="#e05c59" stroke-width="1.6"/>
<polyline points="777.1,1644.4 780.4,1644.4 783.7,1644.3 787.0,1644.3 790.3,1644.2 793.6,1644.2 796.9,1644.1 800.2,1644.0 803.5,1644.0 806.8,1643.9 810.1,1643.8 813.4,1643.7 816.7,1643.6 820.0,1643.5 823.3,1643.4 826.6,1643.2 829.9,1643.1 833.2,1642.9 836.5,1642.7 839.8,1642.5 843.1,1642.3 846.4,1642.1 849.7,1641.8 853.0,1641.5 856.3,1641.2 859.6,1640.9 862.9,1640.5 866.2,1640.1 869.5,1639.6 872.8,1639.1 876.0,1638.6 879.3,1638.0 882.6,1637.3 885.9,1636.6 889.2,1635.9 892.5,1635.0 895.8,1634.1 899.1,1633.1 902.4,1632.0 905.7,1630.8 909.0,1629.5 912.3,1628.1 915.6,1626.6 918.9,1624.9 922.2,1623.1 925.5,1621.2 928.8,1619.1 932.1,1616.8 935.4,1614.3 938.7,1611.7 942.0,1608.9 945.3,1605.8 948.6,1602.6 951.9,1599.1 955.2,1595.4 958.5,1591.5 961.8,1587.3 965.1,1582.9 968.4,1578.2 971.7,1573.4 975.0,1568.2 978.3,1562.9 981.6,1557.4 984.9,1551.6 988.2,1545.7 991.5,1539.5 994.8,1533.3 998.1,1526.9 1001.4,1520.4 1004.7,1513.8 1008.0,1507.2 1011.3,1500.6 1014.6,1494.0 1017.9,1487.4 1021.2,1480.9 1024.5,1474.5 1027.8,1468.2 1031.1,1462.0 1034.4,1456.0 1037.7,1450.2 1041.0,1444.6 1044.3,1439.2 1047.6,1434.0 1050.9,1429.1 1054.2,1424.4 1057.5,1419.9 1060.7,1415.7 1064.0,1411.7 1067.3,1407.9 1070.6,1404.4 1073.9,1401.1 1077.2,1398.0 1080.5,1395.1 1083.8,1392.4 1087.1,1389.9 1090.4,1387.6 1093.7,1385.5 1097.0,1383.5 1100.3,1381.6 1103.6,1379.9 1106.9,1378.4 1110.2,1376.9 1113.5,1375.6 1116.8,1374.4 1120.1,1373.3 1123.4,1372.2 1126.7,1371.3 1130.0,1370.4 1133.3,1369.6 1136.6,1368.9 1139.9,1368.3 1143.2,1367.7 1146.5,1367.1 1149.8,1366.6 1153.1,1366.1 1156.4,1365.7 1159.7,1365.3 1163.0,1365.0 1166.3,1364.6 1169.6,1364.3 1172.9,1364.1" fill="none" stroke="#e8762e" stroke-width="1.6"/>
<polyline points="777.1,1642.7 780.4,1642.6 783.7,1642.5 787.0,1642.5 790.3,1642.4 793.6,1642.3 796.9,1642.2 800.2,1642.1 803.5,1642.0 806.8,1641.9 810.1,1641.8 813.4,1641.7 816.7,1641.5 820.0,1641.4 823.3,1641.2 826.6,1641.0 829.9,1640.8 833.2,1640.6 836.5,1640.3 839.8,1640.1 843.1,1639.8 846.4,1639.5 849.7,1639.1 853.0,1638.8 856.3,1638.3 859.6,1637.9 862.9,1637.4 866.2,1636.9 869.5,1636.3 872.8,1635.7 876.0,1635.0 879.3,1634.3 882.6,1633.5 885.9,1632.6 889.2,1631.7 892.5,1630.7 895.8,1629.5 899.1,1628.3 902.4,1627.0 905.7,1625.6 909.0,1624.1 912.3,1622.5 915.6,1620.7 918.9,1618.8 922.2,1616.8 925.5,1614.6 928.8,1612.2 932.1,1609.7 935.4,1607.0 938.7,1604.2 942.0,1601.1 945.3,1597.8 948.6,1594.4 951.9,1590.7 955.2,1586.8 958.5,1582.7 961.8,1578.5 965.1,1574.0 968.4,1569.2 971.7,1564.3 975.0,1559.3 978.3,1554.0 981.6,1548.5 984.9,1542.9 988.2,1537.2 991.5,1531.3 994.8,1525.3 998.1,1519.3 1001.4,1513.2 1004.7,1507.0 1008.0,1500.9 1011.3,1494.7 1014.6,1488.6 1017.9,1482.6 1021.2,1476.6 1024.5,1470.7 1027.8,1465.0 1031.1,1459.3 1034.4,1453.9 1037.7,1448.6 1041.0,1443.5 1044.3,1438.6 1047.6,1433.9 1050.9,1429.4 1054.2,1425.1 1057.5,1421.0 1060.7,1417.1 1064.0,1413.4 1067.3,1409.9 1070.6,1406.7 1073.9,1403.6 1077.2,1400.7 1080.5,1398.0 1083.8,1395.5 1087.1,1393.1 1090.4,1390.9 1093.7,1388.9 1097.0,1387.0 1100.3,1385.2 1103.6,1383.6 1106.9,1382.0 1110.2,1380.6 1113.5,1379.3 1116.8,1378.1 1120.1,1377.0 1123.4,1376.0 1126.7,1375.0 1130.0,1374.2 1133.3,1373.4 1136.6,1372.6 1139.9,1371.9 1143.2,1371.3 1146.5,1370.7 1149.8,1370.2 1153.1,1369.7 1156.4,1369.3 1159.7,1368.9 1163.0,1368.5 1166.3,1368.2 1169.6,1367.8 1172.9,1367.5" fill="none" stroke="#e8a55b" stroke-width="1.6"/>
<polyline points="777.1,1646.2 780.4,1646.2 783.7,1646.2 787.0,1646.2 790.3,1646.2 793.6,1646.2 796.9,1646.2 800.2,1646.2 803.5,1646.2 806.8,1646.1 810.1,1646.1 813.4,1646.1 816.7,1646.1 820.0,1646.0 823.3,1646.0 826.6,1646.0 829.9,1646.0 833.2,1645.9 836.5,1645.9 839.8,1645.8 843.1,1645.8 846.4,1645.7 849.7,1645.7 853.0,1645.6 856.3,1645.5 859.6,1645.4 862.9,1645.3 866.2,1645.2 869.5,1645.1 872.8,1645.0 876.0,1644.8 879.3,1644.7 882.6,1644.5 885.9,1644.3 889.2,1644.1 892.5,1643.9 895.8,1643.6 899.1,1643.3 902.4,1643.0 905.7,1642.6 909.0,1642.2 912.3,1641.8 915.6,1641.3 918.9,1640.8 922.2,1640.2 925.5,1639.5 928.8,1638.8 932.1,1638.0 935.4,1637.1 938.7,1636.2 942.0,1635.1 945.3,1633.9 948.6,1632.7 951.9,1631.2 955.2,1629.7 958.5,1628.0 961.8,1626.2 965.1,1624.2 968.4,1622.0 971.7,1619.6 975.0,1617.0 978.3,1614.2 981.6,1611.2 984.9,1607.9 988.2,1604.4 991.5,1600.7 994.8,1596.7 998.1,1592.4 1001.4,1587.9 1004.7,1583.1 1008.0,1578.0 1011.3,1572.7 1014.6,1567.2 1017.9,1561.5 1021.2,1555.5 1024.5,1549.4 1027.8,1543.1 1031.1,1536.8 1034.4,1530.3 1037.7,1523.8 1041.0,1517.2 1044.3,1510.7 1047.6,1504.3 1050.9,1497.9 1054.2,1491.6 1057.5,1485.5 1060.7,1479.6 1064.0,1473.8 1067.3,1468.3 1070.6,1463.0 1073.9,1458.0 1077.2,1453.2 1080.5,1448.7 1083.8,1444.4 1087.1,1440.4 1090.4,1436.6 1093.7,1433.1 1097.0,1429.9 1100.3,1426.9 1103.6,1424.1 1106.9,1421.5 1110.2,1419.1 1113.5,1416.9 1116.8,1414.9 1120.1,1413.1 1123.4,1411.4 1126.7,1409.9 1130.0,1408.5 1133.3,1407.2 1136.6,1406.0 1139.9,1405.0 1143.2,1404.0 1146.5,1403.1 1149.8,1402.3 1153.1,1401.6 1156.4,1401.0 1159.7,1400.4 1163.0,1399.8 1166.3,1399.3 1169.6,1398.9 1172.9,1398.5" fill="none" stroke="#ecc55f" stroke-width="1.6"/>
<polyline points="777.1,1646.3 780.4,1646.3 783.7,1646.3 787.0,1646.3 790.3,1646.3 793.6,1646.3 796.9,1646.2 800.2,1646.2 803.5,1646.2 806.8,1646.2 810.1,1646.2 813.4,1646.2 816.7,1646.2 820.0,1646.2 823.3,1646.2 826.6,1646.2 829.9,1646.1 833.2,1646.1 836.5,1646.1 839.8,1646.1 843.1,1646.1 846.4,1646.0 849.7,1646.0 853.0,1646.0 856.3,1645.9 859.6,1645.9 862.9,1645.9 866.2,1645.8 869.5,1645.8 872.8,1645.7 876.0,1645.6 879.3,1645.6 882.6,1645.5 885.9,1645.4 889.2,1645.3 892.5,1645.2 895.8,1645.1 899.1,1645.0 902.4,1644.8 905.7,1644.6 909.0,1644.5 912.3,1644.3 915.6,1644.0 918.9,1643.8 922.2,1643.5 925.5,1643.2 928.8,1642.9 932.1,1642.5 935.4,1642.1 938.7,1641.7 942.0,1641.2 945.3,1640.7 948.6,1640.1 951.9,1639.4 955.2,1638.7 958.5,1637.9 961.8,1637.0 965.1,1636.0 968.4,1635.0 971.7,1633.8 975.0,1632.5 978.3,1631.1 981.6,1629.6 984.9,1627.9 988.2,1626.1 991.5,1624.2 994.8,1622.0 998.1,1619.7 1001.4,1617.2 1004.7,1614.6 1008.0,1611.7 1011.3,1608.6 1014.6,1605.3 1017.9,1601.9 1021.2,1598.2 1024.5,1594.3 1027.8,1590.2 1031.1,1585.9 1034.4,1581.4 1037.7,1576.8 1041.0,1572.0 1044.3,1567.1 1047.6,1562.1 1050.9,1557.0 1054.2,1551.8 1057.5,1546.6 1060.7,1541.4 1064.0,1536.3 1067.3,1531.2 1070.6,1526.2 1073.9,1521.2 1077.2,1516.4 1080.5,1511.8 1083.8,1507.3 1087.1,1503.0 1090.4,1498.9 1093.7,1495.0 1097.0,1491.3 1100.3,1487.8 1103.6,1484.5 1106.9,1481.4 1110.2,1478.5 1113.5,1475.9 1116.8,1473.4 1120.1,1471.0 1123.4,1468.9 1126.7,1466.9 1130.0,1465.1 1133.3,1463.4 1136.6,1461.9 1139.9,1460.5 1143.2,1459.2 1146.5,1458.1 1149.8,1457.0 1153.1,1456.0 1156.4,1455.1 1159.7,1454.3 1163.0,1453.6 1166.3,1452.9 1169.6,1452.3 1172.9,1451.8" fill="none" stroke="#f2e3b2" stroke-width="1.6"/>
<polyline points="777.1,1637.1 780.4,1637.1 783.7,1637.1 787.0,1637.0 790.3,1637.0 793.6,1637.0 796.9,1637.0 800.2,1637.0 803.5,1637.0 806.8,1636.9 810.1,1636.9 813.4,1636.9 816.7,1636.9 820.0,1636.8 823.3,1636.8 826.6,1636.8 829.9,1636.7 833.2,1636.7 836.5,1636.6 839.8,1636.6 843.1,1636.5 846.4,1636.4 849.7,1636.3 853.0,1636.2 856.3,1636.1 859.6,1636.0 862.9,1635.9 866.2,1635.8 869.5,1635.6 872.8,1635.5 876.0,1635.3 879.3,1635.1 882.6,1634.8 885.9,1634.6 889.2,1634.3 892.5,1634.0 895.8,1633.7 899.1,1633.3 902.4,1632.9 905.7,1632.4 909.0,1631.9 912.3,1631.3 915.6,1630.7 918.9,1630.0 922.2,1629.3 925.5,1628.4 928.8,1627.5 932.1,1626.5 935.4,1625.4 938.7,1624.1 942.0,1622.8 945.3,1621.3 948.6,1619.7 951.9,1617.9 955.2,1616.0 958.5,1613.9 961.8,1611.6 965.1,1609.1 968.4,1606.4 971.7,1603.4 975.0,1600.3 978.3,1596.9 981.6,1593.2 984.9,1589.3 988.2,1585.1 991.5,1580.6 994.8,1575.9 998.1,1570.9 1001.4,1565.6 1004.7,1560.1 1008.0,1554.4 1011.3,1548.4 1014.6,1542.3 1017.9,1535.9 1021.2,1529.5 1024.5,1522.9 1027.8,1516.2 1031.1,1509.5 1034.4,1502.7 1037.7,1496.0 1041.0,1489.4 1044.3,1482.8 1047.6,1476.4 1050.9,1470.2 1054.2,1464.1 1057.5,1458.2 1060.7,1452.6 1064.0,1447.2 1067.3,1442.1 1070.6,1437.2 1073.9,1432.6 1077.2,1428.2 1080.5,1424.2 1083.8,1420.4 1087.1,1416.8 1090.4,1413.5 1093.7,1410.4 1097.0,1407.6 1100.3,1405.0 1103.6,1402.6 1106.9,1400.4 1110.2,1398.3 1113.5,1396.5 1116.8,1394.8 1120.1,1393.2 1123.4,1391.8 1126.7,1390.5 1130.0,1389.3 1133.3,1388.3 1136.6,1387.3 1139.9,1386.4 1143.2,1385.6 1146.5,1384.9 1149.8,1384.2 1153.1,1383.6 1156.4,1383.1 1159.7,1382.6 1163.0,1382.2 1166.3,1381.8 1169.6,1381.4 1172.9,1381.1" fill="none" stroke="#b3e4e0" stroke-width="1.6"/>
<polyline points="777.1,1640.0 780.4,1640.0 783.7,1640.0 787.0,1640.0 790.3,1639.9 793.6,1639.9 796.9,1639.9 800.2,1639.8 803.5,1639.8 806.8,1639.8 810.1,1639.7 813.4,1639.7 816.7,1639.6 820.0,1639.6 823.3,1639.5 826.6,1639.4 829.9,1639.3 833.2,1639.2 836.5,1639.1 839.8,1639.0 843.1,1638.9 846.4,1638.8 849.7,1638.6 853.0,1638.5 856.3,1638.3 859.6,1638.1 862.9,1637.9 866.2,1637.6 869.5,1637.4 872.8,1637.1 876.0,1636.8 879.3,1636.4 882.6,1636.0 885.9,1635.6 889.2,1635.1 892.5,1634.6 895.8,1634.0 899.1,1633.4 902.4,1632.7 905.7,1632.0 909.0,1631.1 912.3,1630.2 915.6,1629.2 918.9,1628.2 922.2,1627.0 925.5,1625.7 928.8,1624.2 932.1,1622.7 935.4,1621.0 938.7,1619.2 942.0,1617.2 945.3,1615.0 948.6,1612.7 951.9,1610.1 955.2,1607.4 958.5,1604.4 961.8,1601.3 965.1,1597.9 968.4,1594.2 971.7,1590.3 975.0,1586.2 978.3,1581.8 981.6,1577.2 984.9,1572.3 988.2,1567.2 991.5,1561.8 994.8,1556.2 998.1,1550.4 1001.4,1544.4 1004.7,1538.3 1008.0,1531.9 1011.3,1525.5 1014.6,1519.0 1017.9,1512.4 1021.2,1505.8 1024.5,1499.2 1027.8,1492.6 1031.1,1486.1 1034.4,1479.6 1037.7,1473.3 1041.0,1467.2 1044.3,1461.2 1047.6,1455.4 1050.9,1449.9 1054.2,1444.5 1057.5,1439.4 1060.7,1434.6 1064.0,1429.9 1067.3,1425.6 1070.6,1421.5 1073.9,1417.6 1077.2,1414.0 1080.5,1410.6 1083.8,1407.5 1087.1,1404.5 1090.4,1401.8 1093.7,1399.3 1097.0,1397.0 1100.3,1394.8 1103.6,1392.8 1106.9,1391.0 1110.2,1389.3 1113.5,1387.8 1116.8,1386.4 1120.1,1385.1 1123.4,1383.9 1126.7,1382.8 1130.0,1381.9 1133.3,1381.0 1136.6,1380.1 1139.9,1379.4 1143.2,1378.7 1146.5,1378.1 1149.8,1377.5 1153.1,1377.0 1156.4,1376.6 1159.7,1376.1 1163.0,1375.7 1166.3,1375.4 1169.6,1375.1 1172.9,1374.8" fill="none" stroke="#80c4d5" stroke-width="1.6"/>
<polyline points="777.1,1641.3 780.4,1641.3 783.7,1641.2 787.0,1641.2 790.3,1641.1 793.6,1641.1 796.9,1641.0 800.2,1640.9 803.5,1640.8 806.8,1640.8 810.1,1640.7 813.4,1640.6 816.7,1640.5 820.0,1640.3 823.3,1640.2 826.6,1640.0 829.9,1639.9 833.2,1639.7 836.5,1639.5 839.8,1639.3 843.1,1639.0 846.4,1638.8 849.7,1638.5 853.0,1638.2 856.3,1637.8 859.6,1637.5 862.9,1637.1 866.2,1636.6 869.5,1636.1 872.8,1635.6 876.0,1635.0 879.3,1634.3 882.6,1633.6 885.9,1632.9 889.2,1632.0 892.5,1631.1 895.8,1630.1 899.1,1629.0 902.4,1627.9 905.7,1626.6 909.0,1625.2 912.3,1623.6 915.6,1622.0 918.9,1620.2 922.2,1618.3 925.5,1616.2 928.8,1613.9 932.1,1611.5 935.4,1608.9 938.7,1606.1 942.0,1603.1 945.3,1599.8 948.6,1596.4 951.9,1592.7 955.2,1588.8 958.5,1584.7 961.8,1580.4 965.1,1575.8 968.4,1570.9 971.7,1565.9 975.0,1560.6 978.3,1555.1 981.6,1549.4 984.9,1543.6 988.2,1537.5 991.5,1531.4 994.8,1525.1 998.1,1518.7 1001.4,1512.2 1004.7,1505.7 1008.0,1499.2 1011.3,1492.7 1014.6,1486.2 1017.9,1479.8 1021.2,1473.5 1024.5,1467.3 1027.8,1461.3 1031.1,1455.4 1034.4,1449.7 1037.7,1444.2 1041.0,1438.9 1044.3,1433.9 1047.6,1429.0 1050.9,1424.4 1054.2,1420.0 1057.5,1415.9 1060.7,1412.0 1064.0,1408.3 1067.3,1404.9 1070.6,1401.6 1073.9,1398.6 1077.2,1395.8 1080.5,1393.2 1083.8,1390.7 1087.1,1388.5 1090.4,1386.4 1093.7,1384.4 1097.0,1382.6 1100.3,1381.0 1103.6,1379.5 1106.9,1378.1 1110.2,1376.8 1113.5,1375.6 1116.8,1374.5 1120.1,1373.5 1123.4,1372.6 1126.7,1371.7 1130.0,1371.0 1133.3,1370.3 1136.6,1369.6 1139.9,1369.0 1143.2,1368.5 1146.5,1368.0 1149.8,1367.5 1153.1,1367.1 1156.4,1366.7 1159.7,1366.4 1163.0,1366.1 1166.3,1365.8 1169.6,1365.5 1172.9,1365.3" fill="none" stroke="#5e97ad" stroke-width="1.6"/>
<polyline points="777.1,1644.7 780.4,1644.7 783.7,1644.7 787.0,1644.7 790.3,1644.7 793.6,1644.6 796.9,1644.6 800.2,1644.6 803.5,1644.6 806.8,1644.6 810.1,1644.5 813.4,1644.5 816.7,1644.5 820.0,1644.5 823.3,1644.4 826.6,1644.4 829.9,1644.4 833.2,1644.3 836.5,1644.3 839.8,1644.2 843.1,1644.1 846.4,1644.1 849.7,1644.0 853.0,1643.9 856.3,1643.8 859.6,1643.7 862.9,1643.6 866.2,1643.4 869.5,1643.3 872.8,1643.1 876.0,1643.0 879.3,1642.8 882.6,1642.6 885.9,1642.3 889.2,1642.0 892.5,1641.7 895.8,1641.4 899.1,1641.1 902.4,1640.7 905.7,1640.2 909.0,1639.7 912.3,1639.2 915.6,1638.6 918.9,1637.9 922.2,1637.2 925.5,1636.4 928.8,1635.5 932.1,1634.5 935.4,1633.5 938.7,1632.3 942.0,1631.0 945.3,1629.6 948.6,1628.0 951.9,1626.3 955.2,1624.5 958.5,1622.5 961.8,1620.3 965.1,1617.9 968.4,1615.3 971.7,1612.5 975.0,1609.4 978.3,1606.1 981.6,1602.6 984.9,1598.9 988.2,1594.8 991.5,1590.6 994.8,1586.0 998.1,1581.2 1001.4,1576.2 1004.7,1570.9 1008.0,1565.4 1011.3,1559.7 1014.6,1553.8 1017.9,1547.7 1021.2,1541.5 1024.5,1535.2 1027.8,1528.8 1031.1,1522.4 1034.4,1515.9 1037.7,1509.5 1041.0,1503.1 1044.3,1496.8 1047.6,1490.7 1050.9,1484.7 1054.2,1478.8 1057.5,1473.2 1060.7,1467.8 1064.0,1462.6 1067.3,1457.7 1070.6,1453.0 1073.9,1448.6 1077.2,1444.5 1080.5,1440.6 1083.8,1436.9 1087.1,1433.5 1090.4,1430.3 1093.7,1427.4 1097.0,1424.7 1100.3,1422.2 1103.6,1419.9 1106.9,1417.7 1110.2,1415.8 1113.5,1414.0 1116.8,1412.4 1120.1,1410.9 1123.4,1409.5 1126.7,1408.3 1130.0,1407.2 1133.3,1406.1 1136.6,1405.2 1139.9,1404.4 1143.2,1403.6 1146.5,1402.9 1149.8,1402.3 1153.1,1401.7 1156.4,1401.2 1159.7,1400.7 1163.0,1400.3 1166.3,1399.9 1169.6,1399.6 1172.9,1399.3" fill="none" stroke="#466e96" stroke-width="1.6"/>
<polyline points="777.1,1638.6 780.4,1638.6 783.7,1638.6 787.0,1638.6 790.3,1638.6 793.6,1638.5 796.9,1638.5 800.2,1638.5 803.5,1638.5 806.8,1638.5 810.1,1638.4 813.4,1638.4 816.7,1638.4 820.0,1638.4 823.3,1638.3 826.6,1638.3 829.9,1638.2 833.2,1638.2 836.5,1638.1 839.8,1638.1 843.1,1638.0 846.4,1637.9 849.7,1637.9 853.0,1637.8 856.3,1637.7 859.6,1637.6 862.9,1637.4 866.2,1637.3 869.5,1637.2 872.8,1637.0 876.0,1636.8 879.3,1636.6 882.6,1636.4 885.9,1636.1 889.2,1635.9 892.5,1635.5 895.8,1635.2 899.1,1634.8 902.4,1634.4 905.7,1634.0 909.0,1633.4 912.3,1632.9 915.6,1632.3 918.9,1631.6 922.2,1630.8 925.5,1630.0 928.8,1629.0 932.1,1628.0 935.4,1626.9 938.7,1625.7 942.0,1624.3 945.3,1622.8 948.6,1621.1 951.9,1619.3 955.2,1617.4 958.5,1615.2 961.8,1612.8 965.1,1610.2 968.4,1607.4 971.7,1604.4 975.0,1601.0 978.3,1597.5 981.6,1593.6 984.9,1589.4 988.2,1584.9 991.5,1580.1 994.8,1574.9 998.1,1569.4 1001.4,1563.6 1004.7,1557.4 1008.0,1550.9 1011.3,1544.1 1014.6,1537.0 1017.9,1529.7 1021.2,1522.0 1024.5,1514.2 1027.8,1506.1 1031.1,1497.9 1034.4,1489.6 1037.7,1481.3 1041.0,1472.9 1044.3,1464.5 1047.6,1456.2 1050.9,1448.0 1054.2,1439.9 1057.5,1432.1 1060.7,1424.5 1064.0,1417.1 1067.3,1410.0 1070.6,1403.2 1073.9,1396.7 1077.2,1390.6 1080.5,1384.8 1083.8,1379.3 1087.1,1374.1 1090.4,1369.3 1093.7,1364.8 1097.0,1360.6 1100.3,1356.7 1103.6,1353.2 1106.9,1349.8 1110.2,1346.8 1113.5,1344.0 1116.8,1341.4 1120.1,1339.0 1123.4,1336.9 1126.7,1334.9 1130.0,1333.1 1133.3,1331.5 1136.6,1330.0 1139.9,1328.6 1143.2,1327.4 1146.5,1326.2 1149.8,1325.2 1153.1,1324.3 1156.4,1323.5 1159.7,1322.7 1163.0,1322.0 1166.3,1321.4 1169.6,1320.8 1172.9,1320.3" fill="none" stroke="#2a00ff" stroke-width="1.6"/>
<line x1="865.1" y1="1638.7" x2="865.1" y2="1586.9" stroke="#b3e4e0" stroke-width="1.3"/>
<line x1="860.6" y1="1638.7" x2="869.6" y2="1638.7" stroke="#b3e4e0" stroke-width="1.3"/>
<line x1="860.6" y1="1586.9" x2="869.6" y2="1586.9" stroke="#b3e4e0" stroke-width="1.3"/>
<line x1="1084.9" y1="1463.4" x2="1084.9" y2="1425.3" stroke="#e05c59" stroke-width="1.3"/>
<line x1="1080.4" y1="1463.4" x2="1089.4" y2="1463.4" stroke="#e05c59" stroke-width="1.3"/>
<line x1="1080.4" y1="1425.3" x2="1089.4" y2="1425.3" stroke="#e05c59" stroke-width="1.3"/>
<line x1="1084.9" y1="1486.3" x2="1084.9" y2="1417.7" stroke="#466e96" stroke-width="1.3"/>
<line x1="1080.4" y1="1486.3" x2="1089.4" y2="1486.3" stroke="#466e96" stroke-width="1.3"/>
<line x1="1080.4" y1="1417.7" x2="1089.4" y2="1417.7" stroke="#466e96" stroke-width="1.3"/>
<line x1="1084.9" y1="1486.3" x2="1084.9" y2="1448.2" stroke="#ecc55f" stroke-width="1.3"/>
<line x1="1080.4" y1="1486.3" x2="1089.4" y2="1486.3" stroke="#ecc55f" stroke-width="1.3"/>
<line x1="1080.4" y1="1448.2" x2="1089.4" y2="1448.2" stroke="#ecc55f" stroke-width="1.3"/>
<line x1="1041.0" y1="1577.7" x2="1041.0" y2="1561.0" stroke="#f2e3b2" stroke-width="1.3"/>
<line x1="1036.5" y1="1577.7" x2="1045.5" y2="1577.7" stroke="#f2e3b2" stroke-width="1.3"/>
<line x1="1036.5" y1="1561.0" x2="1045.5" y2="1561.0" stroke="#f2e3b2" stroke-width="1.3"/>
<line x1="1172.9" y1="1455.8" x2="1172.9" y2="1440.6" stroke="#f2e3b2" stroke-width="1.3"/>
<line x1="1168.4" y1="1455.8" x2="1177.4" y2="1455.8" stroke="#f2e3b2" stroke-width="1.3"/>
<line x1="1168.4" y1="1440.6" x2="1177.4" y2="1440.6" stroke="#f2e3b2" stroke-width="1.3"/>
<line x1="1128.9" y1="1367.4" x2="1128.9" y2="1349.1" stroke="#e8762e" stroke-width="1.3"/>
<line x1="1124.4" y1="1367.4" x2="1133.4" y2="1367.4" stroke="#e8762e" stroke-width="1.3"/>
<line x1="1124.4" y1="1349.1" x2="1133.4" y2="1349.1" stroke="#e8762e" stroke-width="1.3"/>
<line x1="1172.9" y1="1417.7" x2="1172.9" y2="1387.2" stroke="#ecc55f" stroke-width="1.3"/>
<line x1="1168.4" y1="1417.7" x2="1177.4" y2="1417.7" stroke="#ecc55f" stroke-width="1.3"/>
<line x1="1168.4" y1="1387.2" x2="1177.4" y2="1387.2" stroke="#ecc55f" stroke-width="1.3"/>
<polygon points="777.1,1636.6 784.0,1649.5 770.2,1649.5" fill="#000"/>
<polygon points="821.1,1636.6 828.0,1649.5 814.1,1649.5" fill="#000"/>
<polygon points="865.1,1636.6 872.0,1649.5 858.1,1649.5" fill="#000"/>
<polygon points="909.0,1636.6 916.0,1649.5 902.1,1649.5" fill="#000"/>
<polygon points="953.0,1636.6 959.9,1649.5 946.1,1649.5" fill="#000"/>
<polygon points="997.0,1636.6 1003.9,1649.5 990.0,1649.5" fill="#000"/>
<polygon points="1041.0,1636.6 1047.9,1649.5 1034.0,1649.5" fill="#000"/>
<polygon points="1084.9,1636.6 1091.9,1649.5 1078.0,1649.5" fill="#000"/>
<polygon points="1128.9,1632.0 1135.8,1644.9 1122.0,1644.9" fill="#000"/>
<polygon points="1172.9,1629.7 1179.8,1642.7 1166.0,1642.7" fill="#000"/>
<circle cx="777.1" cy="1644.4" r="5.3" fill="#e05c59"/>
<circle cx="821.1" cy="1643.6" r="5.3" fill="#e05c59"/>
<circle cx="865.1" cy="1640.8" r="5.3" fill="#e05c59"/>
<circle cx="909.0" cy="1632.4" r="5.3" fill="#e05c59"/>
<circle cx="953.0" cy="1608.5" r="5.3" fill="#e05c59"/>
<circle cx="997.0" cy="1555.0" r="5.3" fill="#e05c59"/>
<circle cx="1041.0" cy="1480.5" r="5.3" fill="#e05c59"/>
<circle cx="1084.9" cy="1424.0" r="5.3" fill="#e05c59"/>
<circle cx="1128.9" cy="1397.9" r="5.3" fill="#e05c59"/>
<circle cx="1172.9" cy="1388.6" r="5.3" fill="#e05c59"/>
<rect x="774.1" y="1641.4" width="6.0" height="6.0" fill="#e8762e"/>
<rect x="818.1" y="1640.5" width="6.0" height="6.0" fill="#e8762e"/>
<rect x="862.1" y="1637.2" width="6.0" height="6.0" fill="#e8762e"/>
<rect x="906.0" y="1626.5" width="6.0" height="6.0" fill="#e8762e"/>
<rect x="950.0" y="1594.9" width="6.0" height="6.0" fill="#e8762e"/>
<rect x="994.0" y="1529.0" width="6.0" height="6.0" fill="#e8762e"/>
<rect x="1038.0" y="1429.9" width="6.0" height="6.0" fill="#e8762e"/>
<rect x="1081.9" y="1401.0" width="6.0" height="6.0" fill="#e8762e"/>
<rect x="1125.9" y="1346.1" width="6.0" height="6.0" fill="#e8762e"/>
<rect x="1169.9" y="1361.1" width="6.0" height="6.0" fill="#e8762e"/>
<polygon points="777.1,1636.0 784.0,1648.9 770.2,1648.9" fill="#e8a55b"/>
<polygon points="821.1,1634.7 828.0,1647.6 814.1,1647.6" fill="#e8a55b"/>
<polygon points="865.1,1630.4 872.0,1643.3 858.1,1643.3" fill="#e8a55b"/>
<polygon points="909.0,1617.5 916.0,1630.4 902.1,1630.4" fill="#e8a55b"/>
<polygon points="953.0,1582.8 959.9,1595.7 946.1,1595.7" fill="#e8a55b"/>
<polygon points="997.0,1514.7 1003.9,1527.6 990.0,1527.6" fill="#e8a55b"/>
<polygon points="1041.0,1436.8 1047.9,1449.8 1034.0,1449.8" fill="#e8a55b"/>
<polygon points="1084.9,1388.0 1091.9,1400.9 1078.0,1400.9" fill="#e8a55b"/>
<polygon points="1128.9,1367.8 1135.8,1380.7 1122.0,1380.7" fill="#e8a55b"/>
<polygon points="1172.9,1360.9 1179.8,1373.8 1166.0,1373.8" fill="#e8a55b"/>
<polygon points="777.1,1652.7 783.7,1640.2 770.5,1640.2" fill="#ecc55f"/>
<polygon points="821.1,1652.5 827.7,1640.0 814.5,1640.0" fill="#ecc55f"/>
<polygon points="865.1,1651.7 871.7,1639.2 858.5,1639.2" fill="#ecc55f"/>
<polygon points="909.0,1648.7 915.6,1636.2 902.4,1636.2" fill="#ecc55f"/>
<polygon points="953.0,1637.2 959.6,1624.7 946.4,1624.7" fill="#ecc55f"/>
<polygon points="997.0,1600.3 1003.6,1587.8 990.4,1587.8" fill="#ecc55f"/>
<polygon points="1041.0,1523.7 1047.6,1511.2 1034.4,1511.2" fill="#ecc55f"/>
<polygon points="1084.9,1449.5 1091.5,1437.0 1078.3,1437.0" fill="#ecc55f"/>
<polygon points="1128.9,1415.4 1135.5,1402.8 1122.3,1402.8" fill="#ecc55f"/>
<polygon points="1172.9,1405.0 1179.5,1392.4 1166.3,1392.4" fill="#ecc55f"/>
<polygon points="777.1,1641.3 782.1,1646.3 777.1,1651.3 772.1,1646.3" fill="#f2e3b2"/>
<polygon points="821.1,1641.2 826.1,1646.2 821.1,1651.2 816.1,1646.2" fill="#f2e3b2"/>
<polygon points="865.1,1640.8 870.1,1645.8 865.1,1650.8 860.1,1645.8" fill="#f2e3b2"/>
<polygon points="909.0,1639.5 914.0,1644.5 909.0,1649.5 904.0,1644.5" fill="#f2e3b2"/>
<polygon points="953.0,1634.2 958.0,1639.2 953.0,1644.2 948.0,1639.2" fill="#f2e3b2"/>
<polygon points="997.0,1615.5 1002.0,1620.5 997.0,1625.5 992.0,1620.5" fill="#f2e3b2"/>
<polygon points="1041.0,1567.0 1046.0,1572.0 1041.0,1577.0 1036.0,1572.0" fill="#f2e3b2"/>
<polygon points="1084.9,1500.9 1089.9,1505.9 1084.9,1510.9 1079.9,1505.9" fill="#f2e3b2"/>
<polygon points="1128.9,1460.7 1133.9,1465.7 1128.9,1470.7 1123.9,1465.7" fill="#f2e3b2"/>
<polygon points="1172.9,1446.8 1177.9,1451.8 1172.9,1456.8 1167.9,1451.8" fill="#f2e3b2"/>
<circle cx="777.1" cy="1634.1" r="6.8" fill="#b3e4e0"/>
<circle cx="821.1" cy="1634.1" r="6.8" fill="#b3e4e0"/>
<circle cx="865.1" cy="1621.9" r="6.8" fill="#b3e4e0"/>
<circle cx="909.0" cy="1631.9" r="6.8" fill="#b3e4e0"/>
<circle cx="953.0" cy="1617.3" r="6.8" fill="#b3e4e0"/>
<circle cx="997.0" cy="1572.6" r="6.8" fill="#b3e4e0"/>
<circle cx="1041.0" cy="1489.4" r="6.8" fill="#b3e4e0"/>
<circle cx="1084.9" cy="1419.1" r="6.8" fill="#b3e4e0"/>
<circle cx="1128.9" cy="1389.7" r="6.8" fill="#b3e4e0"/>
<circle cx="1172.9" cy="1381.1" r="6.8" fill="#b3e4e0"/>
<rect x="771.6" y="1634.5" width="11.0" height="11.0" fill="#80c4d5"/>
<rect x="815.6" y="1634.0" width="11.0" height="11.0" fill="#80c4d5"/>
<rect x="859.6" y="1632.2" width="11.0" height="11.0" fill="#80c4d5"/>
<rect x="903.5" y="1625.6" width="11.0" height="11.0" fill="#80c4d5"/>
<rect x="947.5" y="1603.7" width="11.0" height="11.0" fill="#80c4d5"/>
<rect x="991.5" y="1546.9" width="11.0" height="11.0" fill="#80c4d5"/>
<rect x="1035.5" y="1461.7" width="11.0" height="11.0" fill="#80c4d5"/>
<rect x="1079.4" y="1401.0" width="11.0" height="11.0" fill="#80c4d5"/>
<rect x="1123.4" y="1376.7" width="11.0" height="11.0" fill="#80c4d5"/>
<rect x="1167.4" y="1343.6" width="11.0" height="11.0" fill="#80c4d5"/>
<polygon points="777.1,1634.6 784.0,1647.6 770.2,1647.6" fill="#5e97ad"/>
<polygon points="821.1,1633.6 828.0,1646.5 814.1,1646.5" fill="#5e97ad"/>
<polygon points="865.1,1630.1 872.0,1643.0 858.1,1643.0" fill="#5e97ad"/>
<polygon points="909.0,1618.5 916.0,1631.4 902.1,1631.4" fill="#5e97ad"/>
<polygon points="953.0,1584.8 959.9,1597.7 946.1,1597.7" fill="#5e97ad"/>
<polygon points="997.0,1514.1 1003.9,1527.1 990.0,1527.1" fill="#5e97ad"/>
<polygon points="1041.0,1432.3 1047.9,1445.2 1034.0,1445.2" fill="#5e97ad"/>
<polygon points="1084.9,1383.3 1091.9,1396.2 1078.0,1396.2" fill="#5e97ad"/>
<polygon points="1128.9,1364.5 1135.8,1377.5 1122.0,1377.5" fill="#5e97ad"/>
<polygon points="1172.9,1358.6 1179.8,1371.5 1166.0,1371.5" fill="#5e97ad"/>
<polygon points="777.1,1651.2 783.7,1638.6 770.5,1638.6" fill="#466e96"/>
<polygon points="821.1,1650.9 827.7,1638.4 814.5,1638.4" fill="#466e96"/>
<polygon points="865.1,1650.0 871.7,1637.4 858.5,1637.4" fill="#466e96"/>
<polygon points="909.0,1646.2 915.6,1633.7 902.4,1633.7" fill="#466e96"/>
<polygon points="953.0,1632.2 959.6,1619.7 946.4,1619.7" fill="#466e96"/>
<polygon points="997.0,1589.3 1003.6,1576.8 990.4,1576.8" fill="#466e96"/>
<polygon points="1041.0,1509.6 1047.6,1497.0 1034.4,1497.0" fill="#466e96"/>
<polygon points="1084.9,1442.2 1091.5,1429.7 1078.3,1429.7" fill="#466e96"/>
<polygon points="1128.9,1414.0 1135.5,1401.5 1122.3,1401.5" fill="#466e96"/>
<polygon points="1172.9,1405.7 1179.5,1393.2 1166.3,1393.2" fill="#466e96"/>
<polygon points="777.1,1632.1 783.6,1638.6 777.1,1645.1 770.6,1638.6" fill="#2a00ff"/>
<polygon points="821.1,1631.8 827.6,1638.3 821.1,1644.8 814.6,1638.3" fill="#2a00ff"/>
<polygon points="865.1,1630.9 871.6,1637.4 865.1,1643.9 858.6,1637.4" fill="#2a00ff"/>
<polygon points="909.0,1626.9 915.5,1633.4 909.0,1639.9 902.5,1633.4" fill="#2a00ff"/>
<polygon points="953.0,1612.2 959.5,1618.7 953.0,1625.2 946.5,1618.7" fill="#2a00ff"/>
<polygon points="997.0,1535.3 1003.5,1541.8 997.0,1548.3 990.5,1541.8" fill="#2a00ff"/>
<polygon points="1041.0,1510.9 1047.5,1517.4 1041.0,1523.9 1034.5,1517.4" fill="#2a00ff"/>
<polygon points="1084.9,1371.6 1091.4,1378.1 1084.9,1384.6 1078.4,1378.1" fill="#2a00ff"/>
<polygon points="1128.9,1327.4 1135.4,1333.9 1128.9,1340.4 1122.4,1333.9" fill="#2a00ff"/>
<polygon points="1172.9,1321.3 1179.4,1327.8 1172.9,1334.3 1166.4,1327.8" fill="#2a00ff"/>
<line x1="1261.3" y1="1307.8" x2="1288.3" y2="1307.8" stroke="#e05c59" stroke-width="1.6"/>
<circle cx="1274.8" cy="1307.8" r="5.0" fill="#e05c59"/>
<text x="1304.6" y="1315.6" font-family='"Liberation Sans", sans-serif' font-size="21.3" font-weight="normal" text-anchor="start" fill="#000">PV3-S8</text>
<line x1="1261.3" y1="1342.5" x2="1288.3" y2="1342.5" stroke="#e8762e" stroke-width="1.6"/>
<rect x="1272.0" y="1339.7" width="5.7" height="5.7" fill="#e8762e"/>
<text x="1304.6" y="1350.3" font-family='"Liberation Sans", sans-serif' font-size="21.3" font-weight="normal" text-anchor="start" fill="#000">PV3-C23</text>
<line x1="1261.3" y1="1377.3" x2="1288.3" y2="1377.3" stroke="#e8a55b" stroke-width="1.6"/>
<polygon points="1274.8,1371.0 1281.4,1383.2 1268.2,1383.2" fill="#e8a55b"/>
<text x="1304.6" y="1385.1" font-family='"Liberation Sans", sans-serif' font-size="21.3" font-weight="normal" text-anchor="start" fill="#000">PV3-S26</text>
<line x1="1261.3" y1="1412.0" x2="1288.3" y2="1412.0" stroke="#ecc55f" stroke-width="1.6"/>
<polygon points="1274.8,1418.1 1281.1,1406.2 1268.5,1406.2" fill="#ecc55f"/>
<text x="1304.6" y="1419.8" font-family='"Liberation Sans", sans-serif' font-size="21.3" font-weight="normal" text-anchor="start" fill="#000">PV3-I70</text>
<line x1="1261.3" y1="1446.8" x2="1288.3" y2="1446.8" stroke="#f2e3b2" stroke-width="1.6"/>
<polygon points="1274.8,1442.0 1279.5,1446.8 1274.8,1451.5 1270.0,1446.8" fill="#f2e3b2"/>
<text x="1304.6" y="1454.6" font-family='"Liberation Sans", sans-serif' font-size="21.3" font-weight="normal" text-anchor="start" fill="#000">PV3-S71</text>
<line x1="1261.3" y1="1481.5" x2="1288.3" y2="1481.5" stroke="#b3e4e0" stroke-width="1.6"/>
<circle cx="1274.8" cy="1481.5" r="6.5" fill="#b3e4e0"/>
<text x="1304.6" y="1489.3" font-family='"Liberation Sans", sans-serif' font-size="21.3" font-weight="normal" text-anchor="start" fill="#000">PV3-N77</text>
<line x1="1261.3" y1="1516.2" x2="1288.3" y2="1516.2" stroke="#80c4d5" stroke-width="1.6"/>
<rect x="1269.6" y="1511.0" width="10.4" height="10.4" fill="#80c4d5"/>
<text x="1304.6" y="1524.0" font-family='"Liberation Sans", sans-serif' font-size="21.3" font-weight="normal" text-anchor="start" fill="#000">PV3-S85</text>
<line x1="1261.3" y1="1551.0" x2="1288.3" y2="1551.0" stroke="#5e97ad" stroke-width="1.6"/>
<polygon points="1274.8,1544.7 1281.4,1556.9 1268.2,1556.9" fill="#5e97ad"/>
<text x="1304.6" y="1558.8" font-family='"Liberation Sans", sans-serif' font-size="21.3" font-weight="normal" text-anchor="start" fill="#000">PV3-K87</text>
<line x1="1261.3" y1="1585.7" x2="1288.3" y2="1585.7" stroke="#466e96" stroke-width="1.6"/>
<polygon points="1274.8,1591.8 1281.1,1579.9 1268.5,1579.9" fill="#466e96"/>
<text x="1304.6" y="1593.5" font-family='"Liberation Sans", sans-serif' font-size="21.3" font-weight="normal" text-anchor="start" fill="#000">PV3-G119</text>
<line x1="1261.3" y1="1615.5" x2="1288.3" y2="1615.5" stroke="#2a00ff" stroke-width="1.6"/>
<polygon points="1274.8,1609.3 1281.0,1615.5 1274.8,1621.7 1268.6,1615.5" fill="#2a00ff"/>
<text x="1304.6" y="1623.3" font-family='"Liberation Sans", sans-serif' font-size="21.3" font-weight="normal" text-anchor="start" fill="#000">PV3-WT</text>
<line x1="1261.3" y1="1649.4" x2="1288.3" y2="1649.4" stroke="#000" stroke-width="1.6"/>
<polygon points="1274.8,1643.1 1281.4,1655.3 1268.2,1655.3" fill="#000"/>
<text x="1304.6" y="1657.2" font-family='"Liberation Sans", sans-serif' font-size="21.3" font-weight="normal" text-anchor="start" fill="#000">BSA</text>
<text x="3.9" y="1840.7" font-family='"Liberation Serif", serif' font-size="98.8" font-weight="normal" text-anchor="start" fill="#000">E</text>
<line x1="133.0" y1="1901.4" x2="133.0" y2="2242.8" stroke="#6f6f6f" stroke-width="1.4"/>
<line x1="120.6" y1="1901.4" x2="133.0" y2="1901.4" stroke="#6f6f6f" stroke-width="1.4"/>
<text x="116.7" y="1911.0" font-family='"Liberation Sans", sans-serif' font-size="26" font-weight="bold" text-anchor="end" fill="#000">40</text>
<line x1="120.6" y1="1986.8" x2="133.0" y2="1986.8" stroke="#6f6f6f" stroke-width="1.4"/>
<text x="116.7" y="1996.4" font-family='"Liberation Sans", sans-serif' font-size="26" font-weight="bold" text-anchor="end" fill="#000">30</text>
<line x1="120.6" y1="2072.1" x2="133.0" y2="2072.1" stroke="#6f6f6f" stroke-width="1.4"/>
<text x="116.7" y="2081.7" font-family='"Liberation Sans", sans-serif' font-size="26" font-weight="bold" text-anchor="end" fill="#000">20</text>
<line x1="120.6" y1="2157.5" x2="133.0" y2="2157.5" stroke="#6f6f6f" stroke-width="1.4"/>
<text x="116.7" y="2167.1" font-family='"Liberation Sans", sans-serif' font-size="26" font-weight="bold" text-anchor="end" fill="#000">10</text>
<line x1="120.6" y1="2242.8" x2="133.0" y2="2242.8" stroke="#6f6f6f" stroke-width="1.4"/>
<text x="116.7" y="2252.4" font-family='"Liberation Sans", sans-serif' font-size="26" font-weight="bold" text-anchor="end" fill="#000">0</text>
<line x1="120.6" y1="2242.8" x2="645.4" y2="2242.8" stroke="#6f6f6f" stroke-width="1.4"/>
<rect x="150.0" y="2163.7" width="33.0" height="79.1" fill="#8c4f65" stroke="#555" stroke-width="0.8"/>
<line x1="166.5" y1="2242.8" x2="166.5" y2="2255.7" stroke="#6f6f6f" stroke-width="1.4"/>
<text x="174.8" y="2278.8" font-family='"Liberation Sans", sans-serif' font-size="26" font-weight="bold" text-anchor="end" fill="#000" transform="rotate(-45 174.8 2278.8)">PV2-S8</text>
<rect x="199.6" y="2160.4" width="33.0" height="82.4" fill="#b6606f" stroke="#555" stroke-width="0.8"/>
<line x1="216.1" y1="2242.8" x2="216.1" y2="2255.7" stroke="#6f6f6f" stroke-width="1.4"/>
<text x="224.4" y="2278.8" font-family='"Liberation Sans", sans-serif' font-size="26" font-weight="bold" text-anchor="end" fill="#000" transform="rotate(-45 224.4 2278.8)">PV2-C23</text>
<rect x="249.1" y="2230.0" width="33.0" height="12.8" fill="#cf756b" stroke="#555" stroke-width="0.8"/>
<line x1="265.6" y1="2242.8" x2="265.6" y2="2255.7" stroke="#6f6f6f" stroke-width="1.4"/>
<text x="273.9" y="2278.8" font-family='"Liberation Sans", sans-serif' font-size="26" font-weight="bold" text-anchor="end" fill="#000" transform="rotate(-45 273.9 2278.8)">PV2-S26</text>
<rect x="298.6" y="2169.1" width="33.0" height="73.7" fill="#d9a47e" stroke="#555" stroke-width="0.8"/>
<line x1="315.1" y1="2242.8" x2="315.1" y2="2255.7" stroke="#6f6f6f" stroke-width="1.4"/>
<text x="323.4" y="2278.8" font-family='"Liberation Sans", sans-serif' font-size="26" font-weight="bold" text-anchor="end" fill="#000" transform="rotate(-45 323.4 2278.8)">PV2-I70</text>
<rect x="348.2" y="2228.5" width="33.0" height="14.3" fill="#e5cf96" stroke="#555" stroke-width="0.8"/>
<line x1="364.7" y1="2242.8" x2="364.7" y2="2255.7" stroke="#6f6f6f" stroke-width="1.4"/>
<text x="373.0" y="2278.8" font-family='"Liberation Sans", sans-serif' font-size="26" font-weight="bold" text-anchor="end" fill="#000" transform="rotate(-45 373.0 2278.8)">PV2-S71</text>
<rect x="397.8" y="2188.2" width="33.0" height="54.6" fill="#d3e09e" stroke="#555" stroke-width="0.8"/>
<line x1="414.2" y1="2242.8" x2="414.2" y2="2255.7" stroke="#6f6f6f" stroke-width="1.4"/>
<text x="422.6" y="2278.8" font-family='"Liberation Sans", sans-serif' font-size="26" font-weight="bold" text-anchor="end" fill="#000" transform="rotate(-45 422.6 2278.8)">PV2-N74</text>
<rect x="447.3" y="2110.8" width="33.0" height="132.0" fill="#a6d1a5" stroke="#555" stroke-width="0.8"/>
<line x1="463.8" y1="2242.8" x2="463.8" y2="2255.7" stroke="#6f6f6f" stroke-width="1.4"/>
<text x="472.1" y="2278.8" font-family='"Liberation Sans", sans-serif' font-size="26" font-weight="bold" text-anchor="end" fill="#000" transform="rotate(-45 472.1 2278.8)">PV2-Q82</text>
<rect x="496.8" y="2077.6" width="33.0" height="165.2" fill="#80bda0" stroke="#555" stroke-width="0.8"/>
<line x1="513.3" y1="2242.8" x2="513.3" y2="2255.7" stroke="#6f6f6f" stroke-width="1.4"/>
<text x="521.6" y="2278.8" font-family='"Liberation Sans", sans-serif' font-size="26" font-weight="bold" text-anchor="end" fill="#000" transform="rotate(-45 521.6 2278.8)">PV2-S85</text>
<rect x="546.4" y="1924.4" width="33.0" height="318.4" fill="#6b8ca8" stroke="#555" stroke-width="0.8"/>
<line x1="562.9" y1="2242.8" x2="562.9" y2="2255.7" stroke="#6f6f6f" stroke-width="1.4"/>
<text x="571.2" y="2278.8" font-family='"Liberation Sans", sans-serif' font-size="26" font-weight="bold" text-anchor="end" fill="#000" transform="rotate(-45 571.2 2278.8)">PV2-C96</text>
<rect x="596.0" y="2114.2" width="33.0" height="128.6" fill="#8b90d0" stroke="#555" stroke-width="0.8"/>
<line x1="612.5" y1="2242.8" x2="612.5" y2="2255.7" stroke="#6f6f6f" stroke-width="1.4"/>
<text x="620.8" y="2278.8" font-family='"Liberation Sans", sans-serif' font-size="26" font-weight="bold" text-anchor="end" fill="#000" transform="rotate(-45 620.8 2278.8)">PV2-WT</text>
<text x="70.5" y="2073.1" font-family='"Liberation Sans", sans-serif' font-size="28" font-weight="bold" text-anchor="middle" fill="#000" transform="rotate(-90 70.5 2073.1)">Affinity/nM</text>
<line x1="844.1" y1="1887.8" x2="844.1" y2="2230.6" stroke="#000" stroke-width="3.2"/>
<line x1="829.6" y1="1889.3" x2="844.1" y2="1889.3" stroke="#000" stroke-width="3.2"/>
<text x="826.6" y="1898.6" font-family='"Liberation Sans", sans-serif' font-size="26" font-weight="bold" text-anchor="end" fill="#000">80</text>
<line x1="829.6" y1="1974.6" x2="844.1" y2="1974.6" stroke="#000" stroke-width="3.2"/>
<text x="826.6" y="1983.9" font-family='"Liberation Sans", sans-serif' font-size="26" font-weight="bold" text-anchor="end" fill="#000">60</text>
<line x1="829.6" y1="2060.0" x2="844.1" y2="2060.0" stroke="#000" stroke-width="3.2"/>
<text x="826.6" y="2069.3" font-family='"Liberation Sans", sans-serif' font-size="26" font-weight="bold" text-anchor="end" fill="#000">40</text>
<line x1="829.6" y1="2145.3" x2="844.1" y2="2145.3" stroke="#000" stroke-width="3.2"/>
<text x="826.6" y="2154.6" font-family='"Liberation Sans", sans-serif' font-size="26" font-weight="bold" text-anchor="end" fill="#000">20</text>
<line x1="829.6" y1="2230.6" x2="844.1" y2="2230.6" stroke="#000" stroke-width="3.2"/>
<text x="826.6" y="2239.9" font-family='"Liberation Sans", sans-serif' font-size="26" font-weight="bold" text-anchor="end" fill="#000">0</text>
<line x1="829.6" y1="2230.6" x2="1357.7" y2="2230.6" stroke="#000" stroke-width="3.2"/>
<rect x="861.3" y="2105.2" width="33.2" height="123.9" fill="#e05c59" stroke="#555" stroke-width="0.8"/>
<line x1="877.9" y1="2230.6" x2="877.9" y2="2245.1" stroke="#000" stroke-width="3"/>
<text x="887.7" y="2267.5" font-family='"Liberation Sans", sans-serif' font-size="26.5" font-weight="bold" text-anchor="end" fill="#000" transform="rotate(-45 887.7 2267.5)">PV3-S8</text>
<rect x="910.8" y="2160.0" width="33.2" height="69.1" fill="#e5874a" stroke="#555" stroke-width="0.8"/>
<line x1="927.4" y1="2230.6" x2="927.4" y2="2245.1" stroke="#000" stroke-width="3"/>
<text x="937.2" y="2267.5" font-family='"Liberation Sans", sans-serif' font-size="26.5" font-weight="bold" text-anchor="end" fill="#000" transform="rotate(-45 937.2 2267.5)">PV3-C23</text>
<rect x="960.2" y="2118.0" width="33.2" height="111.1" fill="#e8a65b" stroke="#555" stroke-width="0.8"/>
<line x1="976.8" y1="2230.6" x2="976.8" y2="2245.1" stroke="#000" stroke-width="3"/>
<text x="986.6" y="2267.5" font-family='"Liberation Sans", sans-serif' font-size="26.5" font-weight="bold" text-anchor="end" fill="#000" transform="rotate(-45 986.6 2267.5)">PV3-S26</text>
<rect x="1009.7" y="2073.0" width="33.2" height="156.1" fill="#edcd6e" stroke="#555" stroke-width="0.8"/>
<line x1="1026.3" y1="2230.6" x2="1026.3" y2="2245.1" stroke="#000" stroke-width="3"/>
<text x="1036.1" y="2267.5" font-family='"Liberation Sans", sans-serif' font-size="26.5" font-weight="bold" text-anchor="end" fill="#000" transform="rotate(-45 1036.1 2267.5)">PV3-I70</text>
<rect x="1059.2" y="1972.5" width="33.2" height="256.6" fill="#f2e5b4" stroke="#555" stroke-width="0.8"/>
<line x1="1075.8" y1="2230.6" x2="1075.8" y2="2245.1" stroke="#000" stroke-width="3"/>
<text x="1085.6" y="2267.5" font-family='"Liberation Sans", sans-serif' font-size="26.5" font-weight="bold" text-anchor="end" fill="#000" transform="rotate(-45 1085.6 2267.5)">PV3-S71</text>
<rect x="1108.6" y="2109.4" width="33.2" height="119.7" fill="#b3e4e0" stroke="#555" stroke-width="0.8"/>
<line x1="1125.2" y1="2230.6" x2="1125.2" y2="2245.1" stroke="#000" stroke-width="3"/>
<text x="1135.0" y="2267.5" font-family='"Liberation Sans", sans-serif' font-size="26.5" font-weight="bold" text-anchor="end" fill="#000" transform="rotate(-45 1135.0 2267.5)">PV3-N77</text>
<rect x="1158.1" y="2130.8" width="33.2" height="98.3" fill="#80c4d5" stroke="#555" stroke-width="0.8"/>
<line x1="1174.7" y1="2230.6" x2="1174.7" y2="2245.1" stroke="#000" stroke-width="3"/>
<text x="1184.5" y="2267.5" font-family='"Liberation Sans", sans-serif' font-size="26.5" font-weight="bold" text-anchor="end" fill="#000" transform="rotate(-45 1184.5 2267.5)">PV3-S85</text>
<rect x="1207.6" y="2173.0" width="33.2" height="56.1" fill="#5e97ad" stroke="#555" stroke-width="0.8"/>
<line x1="1224.2" y1="2230.6" x2="1224.2" y2="2245.1" stroke="#000" stroke-width="3"/>
<text x="1234.0" y="2267.5" font-family='"Liberation Sans", sans-serif' font-size="26.5" font-weight="bold" text-anchor="end" fill="#000" transform="rotate(-45 1234.0 2267.5)">PV3-K87</text>
<rect x="1257.1" y="2101.8" width="33.2" height="127.3" fill="#466e96" stroke="#555" stroke-width="0.8"/>
<line x1="1273.7" y1="2230.6" x2="1273.7" y2="2245.1" stroke="#000" stroke-width="3"/>
<text x="1283.5" y="2267.5" font-family='"Liberation Sans", sans-serif' font-size="26.5" font-weight="bold" text-anchor="end" fill="#000" transform="rotate(-45 1283.5 2267.5)">PV3-G119</text>
<rect x="1306.5" y="2013.9" width="33.2" height="215.2" fill="#2600ff" stroke="#555" stroke-width="0.8"/>
<line x1="1323.1" y1="2230.6" x2="1323.1" y2="2245.1" stroke="#000" stroke-width="3"/>
<text x="1332.9" y="2267.5" font-family='"Liberation Sans", sans-serif' font-size="26.5" font-weight="bold" text-anchor="end" fill="#000" transform="rotate(-45 1332.9 2267.5)">PV3-WT</text>
<text x="779.2" y="2061.0" font-family='"Liberation Sans", sans-serif' font-size="28.3" font-weight="bold" text-anchor="middle" fill="#000" transform="rotate(-90 779.2 2061.0)">Affinity/nM</text>
</svg></body></html>
